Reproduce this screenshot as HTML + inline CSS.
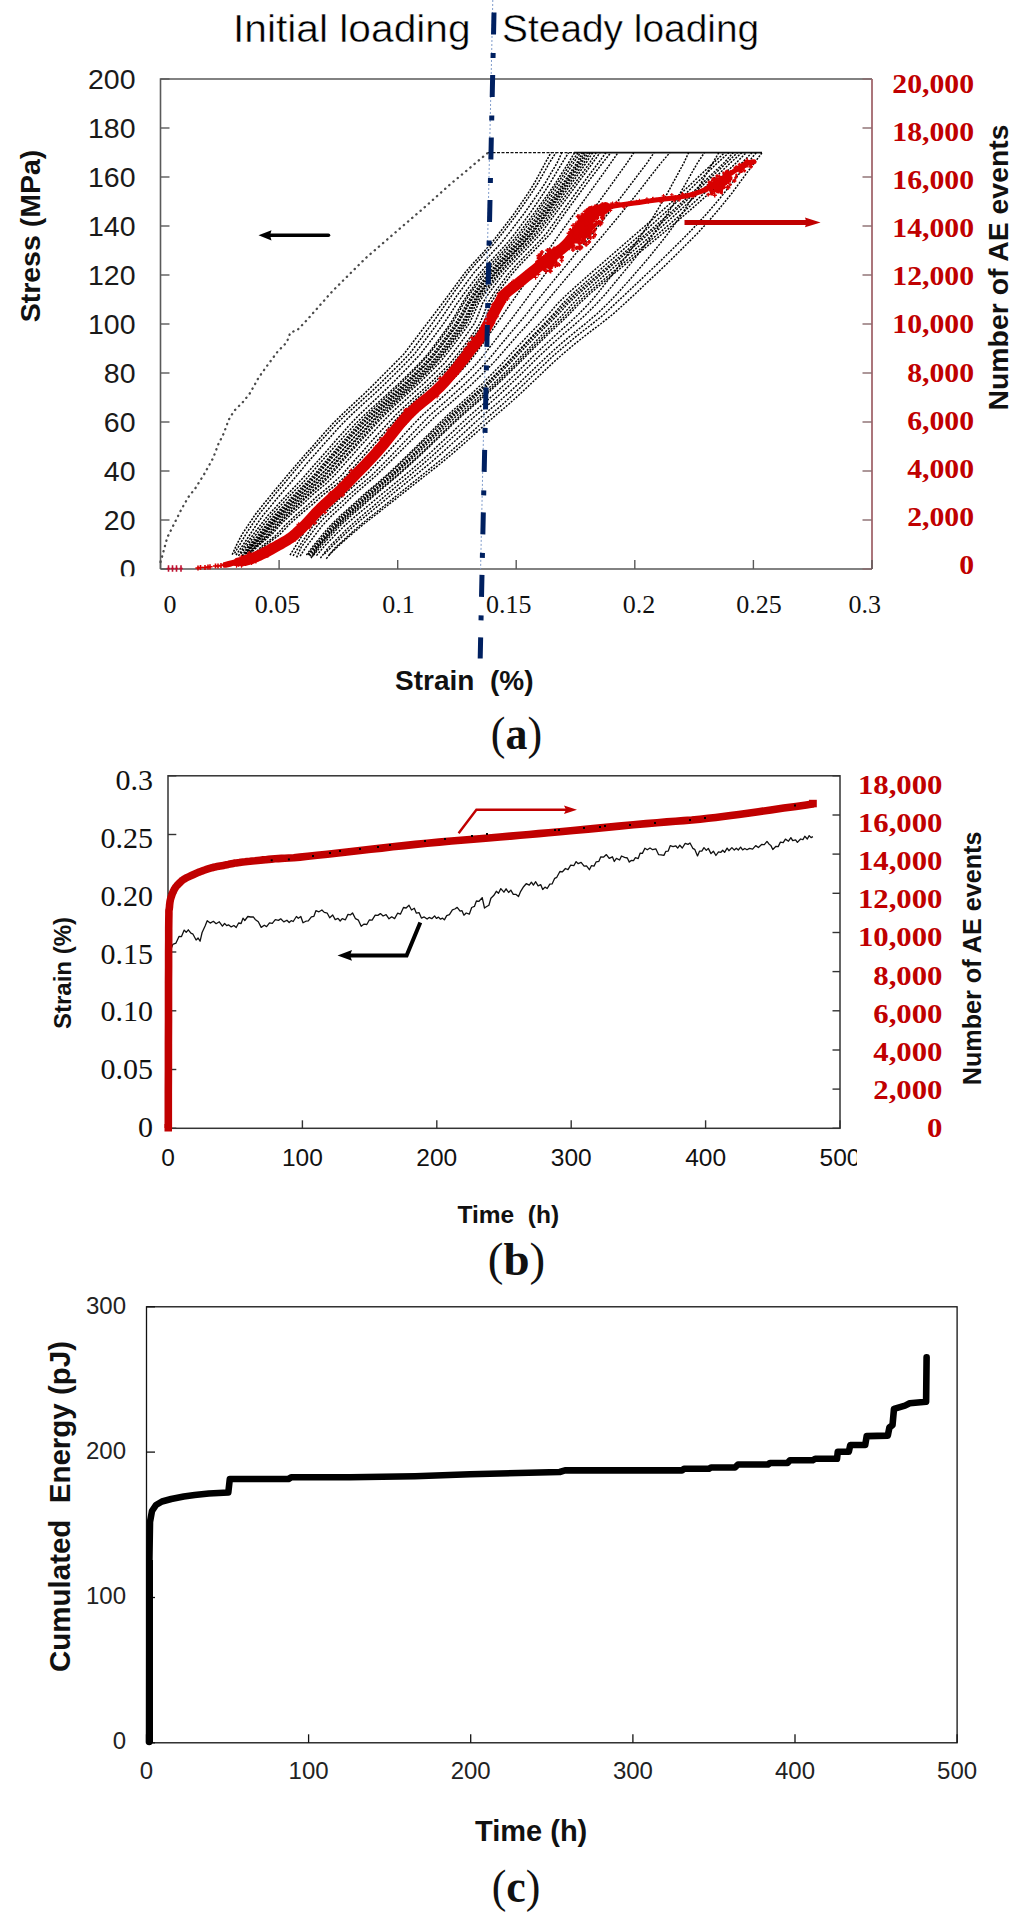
<!DOCTYPE html>
<html><head><meta charset="utf-8"><title>Figure</title>
<style>html,body{margin:0;padding:0;background:#fff;} svg{display:block;}</style></head>
<body><svg width="1024" height="1927" viewBox="0 0 1024 1927">
<rect width="1024" height="1927" fill="#fff"/>
<text x="233" y="42" font-size="38" font-family="Liberation Sans, sans-serif" font-weight="normal" fill="#000" text-anchor="start" textLength="237.6" lengthAdjust="spacingAndGlyphs" stroke="#fff" stroke-width="0.45">Initial loading</text>
<text x="502.1" y="41.5" font-size="38" font-family="Liberation Sans, sans-serif" font-weight="normal" fill="#000" text-anchor="start" textLength="257" lengthAdjust="spacingAndGlyphs" stroke="#fff" stroke-width="0.45">Steady loading</text>
<path d="M160.5 569 L160.5 79 L872 79" fill="none" stroke="#595959" stroke-width="1.6"/>
<path d="M160.5 569 L872 569" fill="none" stroke="#595959" stroke-width="1.6"/>
<path d="M872 79 L872 569" fill="none" stroke="#ab757b" stroke-width="2"/>
<line x1="160.5" y1="79" x2="169.5" y2="79" stroke="#595959" stroke-width="1.4"/>
<line x1="862.5" y1="79" x2="872" y2="79" stroke="#8a6b6e" stroke-width="1.4"/>
<text x="135.5" y="89.2" font-size="28.5" font-family="Liberation Sans, sans-serif" font-weight="normal" fill="#1a1a1a" text-anchor="end" >200</text>
<line x1="160.5" y1="128" x2="169.5" y2="128" stroke="#595959" stroke-width="1.4"/>
<line x1="862.5" y1="128" x2="872" y2="128" stroke="#8a6b6e" stroke-width="1.4"/>
<text x="135.5" y="138.2" font-size="28.5" font-family="Liberation Sans, sans-serif" font-weight="normal" fill="#1a1a1a" text-anchor="end" >180</text>
<line x1="160.5" y1="177" x2="169.5" y2="177" stroke="#595959" stroke-width="1.4"/>
<line x1="862.5" y1="177" x2="872" y2="177" stroke="#8a6b6e" stroke-width="1.4"/>
<text x="135.5" y="187.2" font-size="28.5" font-family="Liberation Sans, sans-serif" font-weight="normal" fill="#1a1a1a" text-anchor="end" >160</text>
<line x1="160.5" y1="226" x2="169.5" y2="226" stroke="#595959" stroke-width="1.4"/>
<line x1="862.5" y1="226" x2="872" y2="226" stroke="#8a6b6e" stroke-width="1.4"/>
<text x="135.5" y="236.2" font-size="28.5" font-family="Liberation Sans, sans-serif" font-weight="normal" fill="#1a1a1a" text-anchor="end" >140</text>
<line x1="160.5" y1="275" x2="169.5" y2="275" stroke="#595959" stroke-width="1.4"/>
<line x1="862.5" y1="275" x2="872" y2="275" stroke="#8a6b6e" stroke-width="1.4"/>
<text x="135.5" y="285.2" font-size="28.5" font-family="Liberation Sans, sans-serif" font-weight="normal" fill="#1a1a1a" text-anchor="end" >120</text>
<line x1="160.5" y1="324" x2="169.5" y2="324" stroke="#595959" stroke-width="1.4"/>
<line x1="862.5" y1="324" x2="872" y2="324" stroke="#8a6b6e" stroke-width="1.4"/>
<text x="135.5" y="334.2" font-size="28.5" font-family="Liberation Sans, sans-serif" font-weight="normal" fill="#1a1a1a" text-anchor="end" >100</text>
<line x1="160.5" y1="373" x2="169.5" y2="373" stroke="#595959" stroke-width="1.4"/>
<line x1="862.5" y1="373" x2="872" y2="373" stroke="#8a6b6e" stroke-width="1.4"/>
<text x="135.5" y="383.2" font-size="28.5" font-family="Liberation Sans, sans-serif" font-weight="normal" fill="#1a1a1a" text-anchor="end" >80</text>
<line x1="160.5" y1="422" x2="169.5" y2="422" stroke="#595959" stroke-width="1.4"/>
<line x1="862.5" y1="422" x2="872" y2="422" stroke="#8a6b6e" stroke-width="1.4"/>
<text x="135.5" y="432.2" font-size="28.5" font-family="Liberation Sans, sans-serif" font-weight="normal" fill="#1a1a1a" text-anchor="end" >60</text>
<line x1="160.5" y1="471" x2="169.5" y2="471" stroke="#595959" stroke-width="1.4"/>
<line x1="862.5" y1="471" x2="872" y2="471" stroke="#8a6b6e" stroke-width="1.4"/>
<text x="135.5" y="481.2" font-size="28.5" font-family="Liberation Sans, sans-serif" font-weight="normal" fill="#1a1a1a" text-anchor="end" >40</text>
<line x1="160.5" y1="520" x2="169.5" y2="520" stroke="#595959" stroke-width="1.4"/>
<line x1="862.5" y1="520" x2="872" y2="520" stroke="#8a6b6e" stroke-width="1.4"/>
<text x="135.5" y="530.2" font-size="28.5" font-family="Liberation Sans, sans-serif" font-weight="normal" fill="#1a1a1a" text-anchor="end" >20</text>
<line x1="160.5" y1="569" x2="169.5" y2="569" stroke="#595959" stroke-width="1.4"/>
<line x1="862.5" y1="569" x2="872" y2="569" stroke="#8a6b6e" stroke-width="1.4"/>
<clipPath id="c0"><rect x="100" y="540" width="50" height="36.3"/></clipPath><g clip-path="url(#c0)">
<text x="135.5" y="579.2" font-size="28.5" font-family="Liberation Sans, sans-serif" font-weight="normal" fill="#1a1a1a" text-anchor="end" >0</text>
</g>
<line x1="160.5" y1="560" x2="160.5" y2="569" stroke="#595959" stroke-width="1.4"/>
<line x1="279.1" y1="560" x2="279.1" y2="569" stroke="#595959" stroke-width="1.4"/>
<line x1="397.7" y1="560" x2="397.7" y2="569" stroke="#595959" stroke-width="1.4"/>
<line x1="516.2" y1="560" x2="516.2" y2="569" stroke="#595959" stroke-width="1.4"/>
<line x1="634.8" y1="560" x2="634.8" y2="569" stroke="#595959" stroke-width="1.4"/>
<line x1="753.4" y1="560" x2="753.4" y2="569" stroke="#595959" stroke-width="1.4"/>
<line x1="872" y1="560" x2="872" y2="569" stroke="#595959" stroke-width="1.4"/>
<text x="170" y="613" font-size="26" font-family="Liberation Serif, serif" font-weight="normal" fill="#111" text-anchor="middle" >0</text>
<text x="277.5" y="613" font-size="26" font-family="Liberation Serif, serif" font-weight="normal" fill="#111" text-anchor="middle" >0.05</text>
<text x="398.5" y="613" font-size="26" font-family="Liberation Serif, serif" font-weight="normal" fill="#111" text-anchor="middle" >0.1</text>
<text x="508.8" y="613" font-size="26" font-family="Liberation Serif, serif" font-weight="normal" fill="#111" text-anchor="middle" >0.15</text>
<text x="638.9" y="613" font-size="26" font-family="Liberation Serif, serif" font-weight="normal" fill="#111" text-anchor="middle" >0.2</text>
<text x="759" y="613" font-size="26" font-family="Liberation Serif, serif" font-weight="normal" fill="#111" text-anchor="middle" >0.25</text>
<text x="864.7" y="613" font-size="26" font-family="Liberation Serif, serif" font-weight="normal" fill="#111" text-anchor="middle" >0.3</text>
<text transform="translate(974,92.5) scale(1.1,1)" font-size="27" font-family="Liberation Serif, serif" font-weight="bold" fill="#c00000" text-anchor="end">20,000</text>
<text transform="translate(974,140.7) scale(1.1,1)" font-size="27" font-family="Liberation Serif, serif" font-weight="bold" fill="#c00000" text-anchor="end">18,000</text>
<text transform="translate(974,188.8) scale(1.1,1)" font-size="27" font-family="Liberation Serif, serif" font-weight="bold" fill="#c00000" text-anchor="end">16,000</text>
<text transform="translate(974,237) scale(1.1,1)" font-size="27" font-family="Liberation Serif, serif" font-weight="bold" fill="#c00000" text-anchor="end">14,000</text>
<text transform="translate(974,285.2) scale(1.1,1)" font-size="27" font-family="Liberation Serif, serif" font-weight="bold" fill="#c00000" text-anchor="end">12,000</text>
<text transform="translate(974,333.4) scale(1.1,1)" font-size="27" font-family="Liberation Serif, serif" font-weight="bold" fill="#c00000" text-anchor="end">10,000</text>
<text transform="translate(974,381.5) scale(1.1,1)" font-size="27" font-family="Liberation Serif, serif" font-weight="bold" fill="#c00000" text-anchor="end">8,000</text>
<text transform="translate(974,429.7) scale(1.1,1)" font-size="27" font-family="Liberation Serif, serif" font-weight="bold" fill="#c00000" text-anchor="end">6,000</text>
<text transform="translate(974,477.9) scale(1.1,1)" font-size="27" font-family="Liberation Serif, serif" font-weight="bold" fill="#c00000" text-anchor="end">4,000</text>
<text transform="translate(974,526) scale(1.1,1)" font-size="27" font-family="Liberation Serif, serif" font-weight="bold" fill="#c00000" text-anchor="end">2,000</text>
<text transform="translate(974,574.2) scale(1.1,1)" font-size="27" font-family="Liberation Serif, serif" font-weight="bold" fill="#c00000" text-anchor="end">0</text>
<text transform="translate(40,236) rotate(-90)" font-size="28.5" font-family="Liberation Sans, sans-serif" font-weight="bold" text-anchor="middle" fill="#111">Stress (MPa)</text>
<text transform="translate(1008,267.5) rotate(-90)" font-size="28.4" font-family="Liberation Sans, sans-serif" font-weight="bold" text-anchor="middle" fill="#111">Number of AE events</text>
<text x="395" y="689.5" font-size="28" font-family="Liberation Sans, sans-serif" font-weight="bold" fill="#111" text-anchor="start" >Strain&#160;&#160;(%)</text>
<text x="516.4" y="749" font-size="47" font-family="Liberation Serif, serif" font-weight="normal" fill="#111" text-anchor="middle" textLength="51.3" lengthAdjust="spacingAndGlyphs" >(<tspan font-weight="bold">a</tspan>)</text>
<path d="M160.5 562 L162 556.8 L167.3 537.4 L172.6 526.9 L181.4 509.3 L188.4 497 L195.4 488.2 L204.2 474.1 L213 458.3 L218.3 444.3 L223.6 433.7 L228.8 419.6 L234.1 410.9 L242.9 402.1 L249.9 393.3 L258.7 377.5 L267.5 365.2 L278 351.1 L286.8 342.3 L290.3 332.6 L297.4 330 L306 321 L332.6 291 L365.8 258 L399 229.3 L425.6 206.4 L450 184.5 L488 152.7" fill="none" stroke="#4a4a4a" stroke-width="2.3" stroke-dasharray="0.3 5.2" stroke-linecap="round"/>
<line x1="488" y1="152.7" x2="575" y2="152.7" stroke="#111" stroke-width="1.2" stroke-dasharray="3 1.5"/>
<line x1="574" y1="152.7" x2="762" y2="152.7" stroke="#111" stroke-width="1.7"/>
<path d="M232.2 554.6 L236.7 544.6 L242 534.5 L248.6 524.5 L255.3 514.5 L263.3 504.4 L271.5 494.4 L279.8 484.3 L288.3 474.3 L296.8 464.3 L305.6 454.2 L314.5 444.2 L323.4 434.1 L332.3 424.1 L342.5 414.1 L353.2 404 L364 394 L374.3 383.9 L384.2 373.9 L394.2 363.9 L404.1 353.8 L411.7 343.8 L419.3 333.7 L426.9 323.7 L434.6 313.6 L442.2 303.6 L449.6 293.6 L457 283.5 L464.4 273.5 L473.1 263.4 L482.4 253.4 L491.3 243.4 L499.1 233.3 L506.8 223.3 L514.5 213.2 L521.3 203.2 L528.1 193.2 L534.4 183.1 L539.8 173.1 L545.2 163 L551 152.7" fill="none" stroke="#000" stroke-width="1.5" stroke-dasharray="2 1.3" stroke-opacity="1"/>
<path d="M234.6 553.3 L240.5 543.3 L246.4 533.3 L253 523.3 L259.8 513.3 L267.9 503.3 L275.9 493.2 L284.4 483.2 L292.8 473.2 L301.1 463.2 L309.8 453.2 L318.8 443.2 L327.9 433.2 L337 423.2 L347.5 413.2 L358.6 403.2 L369.7 393.2 L380.3 383.2 L390.4 373.2 L400.5 363.2 L410.1 353.1 L417.6 343.1 L425 333.1 L432.4 323.1 L439.5 313.1 L446.4 303.1 L453.4 293.1 L460.6 283.1 L467.8 273.1 L476.4 263.1 L485.6 253.1 L494.6 243.1 L502.5 233.1 L510.2 223.1 L517.8 213 L524.7 203 L531.6 193 L538 183 L543.7 173 L549.3 163 L555.9 152.7" fill="none" stroke="#000" stroke-width="1.5" stroke-dasharray="2 1.3" stroke-opacity="1"/>
<path d="M236 555.1 L242.9 545.1 L249.6 535 L256.3 525 L263.4 514.9 L271.8 504.9 L280.1 494.8 L288.9 484.8 L297.5 474.7 L305.9 464.6 L314.6 454.6 L323.6 444.5 L332.6 434.5 L341.7 424.4 L351.9 414.4 L362.8 404.3 L373.9 394.3 L384.6 384.2 L394.7 374.2 L404.8 364.1 L414.4 354.1 L422.1 344 L429.7 334 L437.3 323.9 L444.3 313.8 L451.1 303.8 L458.3 293.7 L465.8 283.7 L473.3 273.6 L482.1 263.6 L491.4 253.5 L500.7 243.5 L508.8 233.4 L516.5 223.4 L524.3 213.3 L531.3 203.3 L538.4 193.2 L545.1 183.2 L551 173.1 L557 163.1 L561.8 152.7" fill="none" stroke="#000" stroke-width="1.5" stroke-dasharray="2 1.3" stroke-opacity="1"/>
<path d="M238.5 555.9 L244.5 545.8 L252.4 535.7 L259.9 525.7 L267.9 515.6 L277.2 505.5 L286.3 495.5 L296 485.4 L305.4 475.3 L314.1 465.2 L322.9 455.2 L331.8 445.1 L340.7 435 L349.5 424.9 L359.2 414.9 L369.7 404.8 L380.4 394.7 L390.9 384.7 L400.8 374.6 L410.7 364.5 L420.1 354.4 L427.9 344.4 L435.6 334.3 L443.2 324.2 L450.1 314.2 L456.6 304.1 L463.8 294 L471.5 283.9 L479.2 273.9 L488 263.8 L497.5 253.7 L506.8 243.6 L515 233.6 L522.5 223.5 L529.9 213.4 L536.7 203.4 L543.5 193.3 L550 183.2 L556 173.1 L562 163.1 L568.6 152.7" fill="none" stroke="#000" stroke-width="1.5" stroke-dasharray="2 1.3" stroke-opacity="1"/>
<path d="M241 553.7 L248.3 543.7 L256.7 533.7 L264.3 523.7 L272.9 513.6 L282.5 503.6 L291.7 493.6 L302 483.6 L311.1 473.6 L319.7 463.6 L328.5 453.5 L337.5 443.5 L346.6 433.5 L355.8 423.5 L366 413.5 L377 403.5 L388.1 393.4 L399 383.4 L409.3 373.4 L419.4 363.4 L428.4 353.4 L436 343.3 L443.3 333.3 L450.5 323.3 L456.4 313.3 L462 303.3 L468.6 293.3 L475.9 283.2 L483.2 273.2 L491.9 263.2 L501.3 253.2 L510.7 243.2 L519.1 233.1 L526.7 223.1 L534.3 213.1 L541.5 203.1 L548.7 193.1 L555.6 183.1 L562 173 L568.4 163 L574.5 152.7" fill="none" stroke="#000" stroke-width="1.5" stroke-dasharray="2 1.3" stroke-opacity="1"/>
<path d="M241.9 556.2 L248.3 546.1 L257.5 536 L265.4 526 L273.9 515.9 L283.8 505.8 L293.3 495.7 L303.5 485.6 L313.4 475.6 L322 465.5 L330.8 455.4 L339.7 445.3 L348.8 435.2 L357.7 425.2 L367.3 415.1 L378 405 L388.8 394.9 L399.6 384.8 L409.7 374.8 L419.7 364.7 L428.8 354.6 L436.6 344.5 L444.1 334.4 L451.5 324.4 L457.6 314.3 L463.2 304.2 L469.9 294.1 L477.4 284 L485 274 L493.7 263.9 L503.3 253.8 L512.8 243.7 L521.4 233.6 L528.9 223.6 L536.5 213.5 L543.6 203.4 L550.8 193.3 L557.7 183.2 L564.3 173.2 L570.8 163.1 L578 152.7" fill="none" stroke="#000" stroke-width="1.5" stroke-dasharray="2 1.3" stroke-opacity="1"/>
<path d="M242.8 556.4 L249.3 546.3 L258.8 536.2 L266.8 526.1 L275.4 516.1 L285.3 506 L294.9 495.9 L305.2 485.8 L315.1 475.7 L323.7 465.6 L332.5 455.6 L341.5 445.5 L350.7 435.4 L359.8 425.3 L369.7 415.2 L380.6 405.1 L391.6 395 L402.7 385 L413.1 374.9 L423.2 364.8 L432.3 354.7 L440.1 344.6 L447.6 334.5 L454.9 324.4 L460.9 314.4 L466.3 304.3 L472.9 294.2 L480.4 284.1 L487.9 274 L496.7 263.9 L506.2 253.9 L515.7 243.8 L524.4 233.7 L531.8 223.6 L539.2 213.5 L546.3 203.4 L553.4 193.3 L560.3 183.3 L566.8 173.2 L573.4 163.1 L580.4 152.7" fill="none" stroke="#000" stroke-width="1.5" stroke-dasharray="2 1.3" stroke-opacity="1"/>
<path d="M243.5 557 L250.3 546.9 L260 536.8 L268.1 526.7 L276.6 516.6 L286.7 506.5 L296.2 496.4 L306.4 486.3 L316.5 476.2 L325.1 466.1 L333.9 456 L342.9 445.9 L352.1 435.8 L361.3 425.7 L371 415.6 L382 405.5 L393.1 395.4 L404.2 385.3 L414.6 375.2 L424.8 365.1 L433.9 355 L441.7 344.9 L449.2 334.8 L456.6 324.7 L462.5 314.6 L467.8 304.5 L474.4 294.4 L481.9 284.3 L489.5 274.2 L498.3 264.1 L507.9 254 L517.5 243.9 L526.3 233.8 L533.9 223.7 L541.5 213.6 L548.7 203.5 L556 193.4 L563.1 183.3 L569.9 173.2 L576.6 163.1 L582.4 152.7" fill="none" stroke="#000" stroke-width="1.5" stroke-dasharray="2 1.3" stroke-opacity="1"/>
<path d="M244.2 556.6 L250.5 546.6 L260.8 536.5 L269.2 526.4 L278.3 516.3 L288.9 506.2 L298.9 496.1 L309.7 486 L320.2 475.9 L329 465.8 L337.8 455.7 L346.7 445.6 L355.7 435.6 L364.6 425.5 L373.9 415.4 L384.4 405.3 L395.1 395.2 L405.8 385.1 L415.9 375 L425.9 364.9 L434.8 354.8 L442.6 344.7 L450.2 334.6 L457.7 324.6 L463.5 314.5 L468.8 304.4 L475.5 294.3 L483.2 284.2 L490.8 274.1 L499.7 264 L509.4 253.9 L519 243.8 L527.8 233.7 L535.3 223.6 L542.9 213.5 L550.2 203.5 L557.5 193.4 L564.6 183.3 L571.4 173.2 L578.2 163.1 L584.3 152.7" fill="none" stroke="#000" stroke-width="1.5" stroke-dasharray="2 1.3" stroke-opacity="1"/>
<path d="M245.1 553.8 L254.7 543.7 L264.6 533.7 L272.5 523.7 L281.9 513.7 L292 503.7 L301.7 493.6 L312.7 483.6 L322.1 473.6 L330.7 463.6 L339.4 453.6 L348.4 443.6 L357.6 433.5 L366.8 423.5 L376.8 413.5 L387.8 403.5 L398.9 393.5 L410.1 383.4 L420.4 373.4 L430.5 363.4 L439.1 353.4 L446.8 343.4 L454.3 333.3 L461.6 323.3 L467 313.3 L472 303.3 L478.8 293.3 L486.4 283.2 L494 273.2 L502.9 263.2 L512.5 253.2 L522 243.2 L530.6 233.2 L538 223.1 L545.3 213.1 L552.3 203.1 L559.4 193.1 L566.3 183.1 L573 173 L579.7 163 L586.3 152.7" fill="none" stroke="#000" stroke-width="1.5" stroke-dasharray="2 1.3" stroke-opacity="1"/>
<path d="M245.7 557.4 L251.6 547.3 L262.3 537.2 L271.1 527 L280.2 516.9 L291 506.8 L301.2 496.7 L312.1 486.6 L322.9 476.5 L331.7 466.4 L340.5 456.3 L349.5 446.2 L358.6 436.1 L367.7 426 L377.2 415.8 L387.9 405.7 L398.9 395.6 L409.9 385.5 L420.3 375.4 L430.4 365.3 L439.3 355.2 L447.2 345.1 L454.7 335 L462.1 324.9 L467.7 314.8 L472.7 304.6 L479 294.5 L486.7 284.4 L494.3 274.3 L503.1 264.2 L512.8 254.1 L522.5 244 L531.4 233.9 L538.8 223.8 L546.2 213.7 L553.3 203.5 L560.5 193.4 L567.6 183.3 L574.4 173.2 L581.3 163.1 L588.2 152.7" fill="none" stroke="#000" stroke-width="1.5" stroke-dasharray="2 1.3" stroke-opacity="1"/>
<path d="M246.4 557.2 L254 547.1 L264.9 537 L273.6 526.9 L282.6 516.8 L293.2 506.7 L303.2 496.6 L313.9 486.5 L324.6 476.4 L333.2 466.3 L342 456.1 L351 446 L360.2 435.9 L369.4 425.8 L378.9 415.7 L389.8 405.6 L400.8 395.5 L412 385.4 L422.4 375.3 L432.6 365.2 L441.4 355.1 L449.2 345 L456.7 334.9 L463.9 324.8 L469.2 314.7 L473.8 304.6 L479.9 294.5 L487.4 284.4 L494.9 274.3 L503.6 264.2 L513.3 254 L523 243.9 L532.1 233.8 L539.7 223.7 L547.3 213.6 L554.7 203.5 L562.2 193.4 L569.5 183.3 L576.6 173.2 L583.7 163.1 L590.2 152.7" fill="none" stroke="#000" stroke-width="1.5" stroke-dasharray="2 1.3" stroke-opacity="1"/>
<path d="M247.3 556.2 L256.3 546.2 L267.5 536.1 L276.2 526 L285.6 515.9 L296.5 505.8 L306.6 495.8 L317.9 485.7 L328.4 475.6 L337.1 465.5 L345.9 455.4 L354.8 445.3 L363.8 435.3 L372.8 425.2 L382.2 415.1 L392.7 405 L403.5 394.9 L414.4 384.9 L424.6 374.8 L434.6 364.7 L443.2 354.6 L451 344.5 L458.6 334.5 L465.9 324.4 L471.2 314.3 L475.9 304.2 L482.3 294.1 L490 284.1 L497.7 274 L506.6 263.9 L516.3 253.8 L526 243.7 L535.1 233.6 L542.5 223.6 L549.9 213.5 L557.3 203.4 L564.6 193.3 L571.8 183.2 L578.9 173.2 L586 163.1 L592.6 152.7" fill="none" stroke="#000" stroke-width="1.5" stroke-dasharray="2 1.3" stroke-opacity="1"/>
<path d="M248.6 553.1 L260.1 543.1 L271.1 533.1 L279.5 523.1 L289.9 513.1 L300.6 503.1 L310.8 493.1 L322.8 483.1 L332.4 473.1 L341 463.1 L349.8 453.1 L358.7 443.1 L367.8 433.1 L376.8 423.1 L386.5 413.1 L397.1 403.1 L408.1 393.1 L419.1 383.1 L429.2 373.1 L439.2 363.1 L447.3 353.1 L455 343.1 L462.4 333.1 L469.6 323 L474.3 313 L478.6 303 L485.2 293 L492.8 283 L500.4 273 L509.5 263 L519.1 253 L528.8 243 L537.8 233 L545.3 223 L552.8 213 L560.2 203 L567.7 193 L575.1 183 L582.4 173 L589.6 163 L596.1 152.7" fill="none" stroke="#000" stroke-width="1.5" stroke-dasharray="2 1.3" stroke-opacity="1"/>
<path d="M250 553.6 L260.9 543.6 L272.6 533.6 L281.4 523.6 L292.1 513.6 L303.3 503.6 L313.9 493.5 L326.3 483.5 L336.2 473.5 L345 463.5 L353.8 453.5 L362.8 443.5 L371.9 433.5 L381.2 423.4 L390.9 413.4 L401.7 403.4 L412.8 393.4 L424.1 383.4 L434.4 373.4 L444.5 363.3 L452.6 353.3 L460.3 343.3 L467.5 333.3 L474.6 323.3 L478.8 313.3 L482.6 303.2 L488.9 293.2 L496.3 283.2 L503.7 273.2 L512.7 263.2 L522.3 253.2 L532.1 243.1 L541.2 233.1 L548.5 223.1 L555.8 213.1 L563.2 203.1 L570.6 193.1 L577.9 183 L585.3 173 L592.6 163 L600 152.7" fill="none" stroke="#000" stroke-width="1.5" stroke-dasharray="2 1.3" stroke-opacity="1"/>
<path d="M252.2 555.7 L262.5 545.7 L275.7 535.6 L284.9 525.5 L295.5 515.5 L307.3 505.4 L318.2 495.3 L330.6 485.3 L341.6 475.2 L350.4 465.1 L359.3 455.1 L368.2 445 L377.3 434.9 L386.5 424.9 L395.9 414.8 L406.5 404.7 L417.4 394.6 L428.7 384.6 L439.1 374.5 L449.2 364.4 L457.3 354.4 L465.1 344.3 L472.5 334.2 L479.5 324.2 L483.8 314.1 L487.3 304 L493.3 294 L500.9 283.9 L508.5 273.8 L517.4 263.8 L527.2 253.7 L537.1 243.6 L546.4 233.5 L553.7 223.5 L560.9 213.4 L568.3 203.3 L575.7 193.3 L583.1 183.2 L590.6 173.1 L598.2 163.1 L605.9 152.7" fill="none" stroke="#000" stroke-width="1.5" stroke-dasharray="2 1.3" stroke-opacity="1"/>
<path d="M253.9 554.8 L266 544.7 L279.7 534.7 L288.9 524.7 L300.2 514.6 L312.3 504.6 L323.5 494.5 L336.5 484.5 L347.3 474.4 L356.2 464.4 L365 454.3 L373.9 444.3 L382.9 434.3 L391.8 424.2 L400.9 414.2 L411.1 404.1 L421.8 394.1 L432.8 384 L442.9 374 L452.8 363.9 L460.6 353.9 L468.4 343.9 L475.8 333.8 L483 323.8 L487.1 313.7 L490.5 303.7 L496.7 293.6 L504.5 283.6 L512.3 273.5 L521.4 263.5 L531.3 253.4 L541.2 243.4 L550.6 233.4 L557.7 223.3 L564.9 213.3 L572.3 203.2 L579.6 193.2 L587.1 183.1 L594.8 173.1 L602.5 163 L610.8 152.7" fill="none" stroke="#000" stroke-width="1.5" stroke-dasharray="2 1.3" stroke-opacity="1"/>
<path d="M290 555.2 L296.2 545.1 L302.5 535.1 L308.9 525 L317.6 515 L328 504.9 L337.5 494.8 L349.1 484.8 L359.9 474.7 L369 464.7 L378.1 454.6 L387.2 444.6 L396.3 434.5 L405.3 424.5 L414.8 414.4 L426 404.4 L437 394.3 L448.1 384.2 L457.9 374.2 L467.4 364.1 L475.2 354.1 L482.5 344 L489.6 334 L496.6 323.9 L503.6 313.9 L510.5 303.8 L517.6 293.8 L524.7 283.7 L531.7 273.7 L538.8 263.6 L545.9 253.5 L553 243.5 L560.1 233.4 L567.3 223.4 L574.6 213.3 L581.9 203.3 L589.2 193.2 L596.4 183.2 L603.6 173.1 L610.7 163.1 L618 152.7" fill="none" stroke="#000" stroke-width="1.45" stroke-dasharray="2 1.3" stroke-opacity="1"/>
<path d="M293.1 555.8 L299.5 545.8 L306.3 535.7 L313.2 525.6 L322.2 515.6 L333 505.5 L343 495.4 L354.6 485.3 L365.9 475.3 L375.5 465.2 L384.9 455.1 L394.3 445.1 L403.7 435 L412.9 424.9 L422.7 414.9 L433.9 404.8 L445.1 394.7 L456.2 384.6 L466.3 374.6 L475.9 364.5 L484.2 354.4 L492 344.4 L499.8 334.3 L507.5 324.2 L515.2 314.1 L522.7 304.1 L530.2 294 L537.7 283.9 L545.3 273.9 L552.8 263.8 L560.3 253.7 L567.8 243.6 L575.3 233.6 L582.8 223.5 L590.2 213.4 L597.7 203.4 L605.1 193.3 L612.4 183.2 L619.6 173.1 L626.9 163.1 L633.8 152.7" fill="none" stroke="#000" stroke-width="1.45" stroke-dasharray="2 1.3" stroke-opacity="1"/>
<path d="M296.6 557.4 L301.2 547.3 L308.6 537.2 L316.1 527.1 L325.1 516.9 L336.5 506.8 L347 496.7 L358.6 486.6 L370.6 476.5 L380.7 466.4 L390.6 456.3 L400.2 446.2 L409.9 436.1 L419.5 426 L429.3 415.8 L440.7 405.7 L452.1 395.6 L463.2 385.5 L473.5 375.4 L483.4 365.3 L492.2 355.2 L500.5 345.1 L508.9 335 L517.4 324.9 L525.9 314.8 L533.9 304.6 L542.2 294.5 L550.5 284.4 L558.8 274.3 L567.2 264.2 L575.4 254.1 L583.7 244 L591.9 233.9 L600 223.8 L608 213.7 L616 203.5 L623.9 193.4 L631.6 183.3 L639.2 173.2 L647 163.1 L654 152.7" fill="none" stroke="#000" stroke-width="1.45" stroke-dasharray="2 1.3" stroke-opacity="1"/>
<path d="M300.1 556 L306.8 545.9 L314.5 535.8 L322.2 525.7 L331.7 515.7 L342.8 505.6 L353.1 495.5 L364.8 485.4 L376.3 475.4 L386.4 465.3 L396.5 455.2 L406.5 445.1 L416.4 435.1 L426.4 425 L436.7 414.9 L448.4 404.9 L460 394.8 L471.3 384.7 L481.7 374.6 L491.8 364.6 L500.8 354.5 L509.6 344.4 L518.4 334.3 L527.4 324.3 L536.1 314.2 L544.4 304.1 L552.8 294 L561.3 284 L569.9 273.9 L578.6 263.8 L587.1 253.7 L595.7 243.7 L604.3 233.6 L612.7 223.5 L621.1 213.4 L629.2 203.4 L637.4 193.3 L645.2 183.2 L653 173.1 L660.9 163.1 L669.8 152.7" fill="none" stroke="#000" stroke-width="1.45" stroke-dasharray="2 1.3" stroke-opacity="1"/>
<path d="M306.4 555 L313.9 545 L322.3 534.9 L331 524.9 L341.4 514.8 L352.8 504.8 L363.7 494.7 L375.7 484.7 L387.3 474.6 L397.9 464.6 L408.3 454.5 L418.4 444.5 L428.4 434.4 L438.2 424.4 L448.5 414.3 L459.8 404.3 L470.9 394.2 L481.7 384.2 L491.8 374.1 L501.7 364.1 L510.8 354 L520.1 344 L529.6 333.9 L539.3 323.9 L548.7 313.8 L557.4 303.8 L567.7 293.7 L578.9 283.7 L590.3 273.6 L601.9 263.6 L613.4 253.5 L624.9 243.5 L636.5 233.4 L648 223.4 L659.3 213.3 L670.3 203.3 L681.3 193.2 L691.9 183.2 L702.4 173.1 L713.1 163.1 L724.6 152.7" fill="none" stroke="#000" stroke-width="1.45" stroke-dasharray="2 1.3" stroke-opacity="1"/>
<path d="M308 554.5 L316.1 544.5 L324.6 534.4 L333.3 524.4 L343.8 514.4 L355 504.3 L365.8 494.3 L377.7 484.2 L389.1 474.2 L399.7 464.2 L410.2 454.1 L420.4 444.1 L430.6 434.1 L440.8 424 L451.5 414 L463.3 403.9 L474.7 393.9 L485.8 383.9 L496.2 373.8 L506.3 363.8 L515.6 353.8 L525.1 343.7 L534.6 333.7 L544.5 323.6 L553.9 313.6 L562.7 303.6 L573 293.5 L584.3 283.5 L595.7 273.5 L607.3 263.4 L618.9 253.4 L630.4 243.3 L642.1 233.3 L653.4 223.3 L664.5 213.2 L675.4 203.2 L686.2 193.2 L696.5 183.1 L706.9 173.1 L717.4 163 L728.9 152.7" fill="none" stroke="#000" stroke-width="1.45" stroke-dasharray="2 1.3" stroke-opacity="1"/>
<path d="M308.7 555.3 L316.8 545.2 L325.5 535.1 L334.4 525.1 L345 515 L356.5 505 L367.5 494.9 L379.5 484.9 L391.2 474.8 L402 464.8 L412.6 454.7 L422.8 444.6 L433 434.6 L443 424.5 L453.3 414.5 L464.7 404.4 L475.8 394.4 L486.6 384.3 L496.7 374.2 L506.7 364.2 L516.1 354.1 L525.7 344.1 L535.6 334 L545.9 324 L555.9 313.9 L565.2 303.8 L575.9 293.8 L587.6 283.7 L599.5 273.7 L611.4 263.6 L623.1 253.6 L634.8 243.5 L646.7 233.5 L658.2 223.4 L669.7 213.3 L680.8 203.3 L691.8 193.2 L702.4 183.2 L713 173.1 L723.7 163.1 L733.2 152.7" fill="none" stroke="#000" stroke-width="1.45" stroke-dasharray="2 1.3" stroke-opacity="1"/>
<path d="M309.9 556.3 L317.5 546.2 L326.3 536.2 L335.2 526.1 L345.6 516 L357.1 505.9 L368.1 495.8 L379.9 485.7 L391.7 475.7 L402.6 465.6 L413.3 455.5 L423.6 445.4 L433.9 435.3 L444.1 425.2 L454.5 415.2 L466 405.1 L477.3 395 L488.1 384.9 L498.5 374.8 L508.5 364.7 L518.1 354.7 L527.9 344.6 L537.8 334.5 L548.2 324.4 L558.3 314.3 L567.5 304.2 L578.2 294.2 L589.9 284.1 L601.7 274 L613.6 263.9 L625.4 253.8 L637.3 243.7 L649.2 233.7 L660.8 223.6 L672.3 213.5 L683.4 203.4 L694.4 193.3 L705 183.2 L715.5 173.2 L726.2 163.1 L737.5 152.7" fill="none" stroke="#000" stroke-width="1.45" stroke-dasharray="2 1.3" stroke-opacity="1"/>
<path d="M311.1 558.1 L316.5 548 L325.5 537.9 L334.6 527.8 L344.8 517.6 L356.7 507.5 L367.9 497.4 L379.6 487.2 L391.9 477.1 L402.9 467 L413.9 456.9 L424.5 446.7 L435.1 436.6 L445.6 426.5 L456.2 416.3 L468.1 406.2 L479.8 396.1 L491 386 L501.7 375.8 L512 365.7 L521.8 355.6 L531.7 345.4 L541.7 335.3 L552.2 325.2 L562.4 315.1 L571.5 304.9 L581.9 294.8 L593.5 284.7 L605.3 274.5 L617.3 264.4 L629.2 254.3 L641.2 244.2 L653.2 234 L664.9 223.9 L676.3 213.8 L687.4 203.6 L698.5 193.5 L709 183.4 L719.5 173.3 L730.2 163.1 L741.8 152.7" fill="none" stroke="#000" stroke-width="1.45" stroke-dasharray="2 1.3" stroke-opacity="1"/>
<path d="M312.2 556.7 L318.7 546.6 L328 536.5 L337.4 526.4 L348.3 516.3 L360.3 506.3 L371.8 496.2 L383.9 486.1 L396.1 476 L407.4 465.9 L418.4 455.8 L429 445.7 L439.5 435.6 L449.9 425.5 L460.5 415.4 L472.3 405.3 L483.6 395.2 L494.7 385.1 L505.1 375 L515.4 365 L525.1 354.9 L535.2 344.8 L545.4 334.7 L556.1 324.6 L566.4 314.5 L575.8 304.4 L586.5 294.3 L598.3 284.2 L610.2 274.1 L622.4 264 L634.3 253.9 L646.4 243.8 L658.4 233.7 L670.2 223.7 L681.7 213.6 L692.9 203.5 L704 193.4 L714.6 183.3 L725.1 173.2 L735.9 163.1 L746.2 152.7" fill="none" stroke="#000" stroke-width="1.45" stroke-dasharray="2 1.3" stroke-opacity="1"/>
<path d="M313.4 555.3 L322 545.2 L331.3 535.2 L340.8 525.1 L351.8 515.1 L363.5 505 L374.8 495 L386.8 484.9 L398.7 474.8 L409.9 464.8 L420.9 454.7 L431.4 444.7 L442 434.6 L452.4 424.6 L463.3 414.5 L475 404.4 L486.4 394.4 L497.4 384.3 L507.8 374.3 L518.1 364.2 L527.9 354.2 L538.1 344.1 L548.4 334 L559.2 324 L569.6 313.9 L579 303.9 L589.9 293.8 L601.8 283.7 L613.9 273.7 L626.2 263.6 L638.3 253.6 L650.5 243.5 L662.8 233.5 L674.8 223.4 L686.5 213.3 L698 203.3 L709.3 193.2 L720.1 183.2 L730.8 173.1 L741.7 163.1 L751.9 152.7" fill="none" stroke="#000" stroke-width="1.45" stroke-dasharray="2 1.3" stroke-opacity="1"/>
<path d="M316.5 555.6 L324.9 545.6 L334.7 535.5 L344.9 525.4 L356.4 515.4 L368.6 505.3 L380.4 495.3 L392.8 485.2 L405 475.1 L416.7 465.1 L428 455 L438.7 444.9 L449.4 434.9 L459.9 424.8 L470.7 414.7 L482.4 404.7 L493.6 394.6 L504.4 384.5 L514.8 374.5 L525 364.4 L535.1 354.3 L545.7 344.3 L556.5 334.2 L567.8 324.1 L578.7 314.1 L588.5 304 L597.2 293.9 L605.1 283.9 L612.9 273.8 L620.7 263.7 L628.1 253.7 L635.3 243.6 L642.4 233.5 L649.1 223.5 L655.4 213.4 L661.5 203.3 L667.4 193.3 L672.8 183.2 L678.3 173.1 L683.8 163.1 L688.6 152.7" fill="none" stroke="#000" stroke-width="1.45" stroke-dasharray="2 1.3" stroke-opacity="1"/>
<path d="M320.4 558.1 L328 548 L338.1 537.8 L348.3 527.7 L359.7 517.6 L371.8 507.5 L383.5 497.3 L395.5 487.2 L407.8 477.1 L419.6 466.9 L431.3 456.8 L442.3 446.7 L453.3 436.6 L464 426.4 L474.8 416.3 L486.6 406.2 L497.9 396.1 L508.7 385.9 L519.3 375.8 L529.6 365.7 L539.9 355.5 L550.8 345.4 L562 335.3 L573.9 325.2 L585.4 315 L595.4 304.9 L604.8 294.8 L613.2 284.7 L621.6 274.5 L630 264.4 L638 254.3 L645.8 244.1 L653.4 234 L660.6 223.9 L667.4 213.8 L673.8 203.6 L680 193.5 L685.8 183.4 L691.5 173.3 L697.4 163.1 L704.4 152.7" fill="none" stroke="#000" stroke-width="1.45" stroke-dasharray="2 1.3" stroke-opacity="1"/>
<path d="M324.4 554.1 L334.4 544.1 L344.9 534.1 L356 524.1 L368.1 514 L380.3 504 L392.4 494 L404.8 483.9 L417.1 473.9 L429.2 463.9 L440.8 453.9 L451.9 443.8 L462.9 433.8 L473.7 423.8 L484.9 413.7 L496.7 403.7 L507.8 393.7 L518.5 383.7 L529 373.6 L539.4 363.6 L550 353.6 L561.3 343.5 L573.2 333.5 L585.6 323.5 L597.4 313.5 L607.9 303.4 L617.5 293.4 L626.4 283.4 L635.2 273.3 L644 263.3 L652.3 253.3 L660.3 243.3 L668.2 233.2 L675.5 223.2 L682.4 213.2 L688.9 203.1 L695.2 193.1 L701 183.1 L706.8 173.1 L712.7 163 L718.8 152.7" fill="none" stroke="#000" stroke-width="1.45" stroke-dasharray="2 1.3" stroke-opacity="1"/>
<path d="M326.3 558.7 L334.4 548.5 L345.4 538.4 L356.4 528.3 L368.8 518.1 L381.5 508 L393.9 497.8 L406.5 487.7 L419.1 477.5 L431.7 467.4 L444 457.3 L455.4 447.1 L466.7 437 L477.5 426.8 L488.4 416.7 L500 406.6 L511.2 396.4 L521.7 386.3 L532.2 376.1 L542.6 366 L553.3 355.8 L565.1 345.7 L577.2 335.6 L590.3 325.4 L602.9 315.3 L613.7 305.1 L624.6 295 L635.3 284.8 L646 274.7 L656.7 264.6 L667.1 254.4 L677.4 244.3 L687.6 234.1 L697.3 224 L706.5 213.9 L715.3 203.7 L723.8 193.6 L731.7 183.4 L739.6 173.3 L747.6 163.1 L756.2 152.7" fill="none" stroke="#000" stroke-width="1.45" stroke-dasharray="2 1.3" stroke-opacity="1"/>
<path d="M329 555 L339.5 544.9 L350.8 534.9 L362.8 524.8 L375.6 514.8 L388.4 504.7 L401.1 494.7 L413.8 484.6 L426.5 474.6 L439.3 464.5 L451.5 454.5 L463 444.4 L474.3 434.4 L485.5 424.3 L496.9 414.3 L508.7 404.2 L519.8 394.2 L530.5 384.1 L541.1 374.1 L551.6 364 L562.8 354 L574.8 343.9 L587.4 333.9 L600.8 323.8 L613.4 313.8 L624.5 303.7 L635.4 293.7 L645.9 283.6 L656.6 273.6 L667.2 263.5 L677.4 253.5 L687.4 243.4 L697.4 233.4 L706.7 223.3 L715.5 213.3 L723.8 203.2 L731.9 193.2 L739.3 183.1 L746.7 173.1 L754.3 163 L762 152.7" fill="none" stroke="#000" stroke-width="1.45" stroke-dasharray="2 1.3" stroke-opacity="1"/>
<path d="M225.4 564.8 L228.8 564 L232 563.2 L235 562.5 L237.7 562" fill="none" stroke="#d80000" stroke-width="6" stroke-linejoin="round" stroke-linecap="round"/>
<path d="M237.7 562 L240.2 561.5 L242.5 561.1 L245 560.5" fill="none" stroke="#d80000" stroke-width="8.5" stroke-linejoin="round" stroke-linecap="round"/>
<path d="M245 560.5 L247.6 559.8 L250.2 559 L252.9 558.1 L255.6 557 L258.4 555.8 L261.2 554.4 L264.1 553 L267 551.5 L270 549.9 L273 548.2 L276.1 546.5 L279 544.8 L281.8 543.3 L284.4 541.8 L287.1 540.3 L290 538.3 L293 536 L296.1 533.4 L299.4 530.4 L303 527 L306.9 523 L311.1 518.5 L315.4 513.7 L320 509 L324.9 504.3 L330.1 499.6 L335.3 494.9 L340 490.5 L344 486.6 L347.4 483.1 L351 479.4 L355.2 475 L360.2 469.9 L365.7 464.3 L371.6 458 L378 451 L385.1 442.6 L392.7 433 L400.5 423.4 L408 415 L415.2 408.1 L422.4 402.1 L429.1 396.7 L435.2 391.4 L440.3 386.5 L444.6 382 L448.5 377.5 L452.7 372.7 L457.2 367.2 L461.9 361.3 L466.3 355.6 L470.3 350.4 L473.7 346.2 L476.7 342.5 L479.4 339 L482 335.2 L484.5 330.9 L486.9 326.4 L489.2 321.9 L491.4 317.6 L493.6 313.4 L495.7 309.4 L497.8 305.6 L499.6 302.3 L501 299.8 L502 297.8 L503.2 296 L505 294 L507.5 291.7 L510.6 289.2 L513.9 286.6 L517.6 283.8 L521.7 280.4 L526.2 276.8 L530.8 273.1 L535 269.7 L538.7 266.6 L542.1 263.7 L545.4 260.9 L549 258 L552.9 255.1 L557.1 252.3 L561.2 249.3 L565 246 L568.5 242.3 L571.8 238.2 L574.9 234 L578 230 L581 226 L583.8 222 L586.8 218.2 L590 215 L594 212.4 L598.5 210.4 L602.6 208.8 L605.5 207.6" fill="none" stroke="#d80000" stroke-width="11" stroke-linejoin="round" stroke-linecap="round"/>
<path d="M605.5 207.6 L607.9 207.2 L611.2 206.5 L615.3 205.8 L620 205 L625.7 204.2 L632.3 203.3 L639.1 202.4 L645 201.6 L649.8 200.9 L653.9 200.3 L657.8 199.8 L662 199.2 L666.6 198.7 L671.4 198.2 L676.3 197.6 L681 196.9 L685.7 196 L690.3 194.9 L694.8 193.6 L699 192.2 L702.9 190.6 L706.5 188.7 L709.9 186.8 L713 185 L715.7 183.2 L718.2 181.5 L720.5 179.7 L723 178 L725.8 176.2 L728.7 174.5 L731.6 172.8 L734.5 171 L737.5 169.1 L740.5 167.2 L743.4 165.4 L746 164 L748.4 163 L750.7 162.4 L752.6 162 L754 161.7" fill="none" stroke="#d80000" stroke-width="5" stroke-linejoin="round" stroke-linecap="round"/>
<path d="M234.3 565.5 h4.4 M236.5 563.3 v4.4" stroke="#d80000" stroke-width="1.2"/>
<path d="M228.6 564.1 h4.4 M230.8 561.9 v4.4" stroke="#d80000" stroke-width="1.2"/>
<path d="M239.6 564.8 h4.4 M241.8 562.6 v4.4" stroke="#d80000" stroke-width="1.2"/>
<path d="M238 561.7 h4.4 M240.2 559.5 v4.4" stroke="#d80000" stroke-width="1.2"/>
<path d="M234.7 564.4 h4.4 M236.9 562.2 v4.4" stroke="#d80000" stroke-width="1.2"/>
<path d="M236.3 564.5 h4.4 M238.5 562.3 v4.4" stroke="#d80000" stroke-width="1.2"/>
<path d="M245 560 h4.4 M247.2 557.8 v4.4" stroke="#d80000" stroke-width="1.2"/>
<path d="M239.3 565.6 h4.4 M241.5 563.4 v4.4" stroke="#d80000" stroke-width="1.2"/>
<path d="M245 557.2 h4.4 M247.2 555 v4.4" stroke="#d80000" stroke-width="1.2"/>
<path d="M239.1 557 h4.4 M241.3 554.8 v4.4" stroke="#d80000" stroke-width="1.2"/>
<path d="M249.4 562.8 h4.4 M251.6 560.6 v4.4" stroke="#d80000" stroke-width="1.2"/>
<path d="M241.9 563 h4.4 M244.1 560.8 v4.4" stroke="#d80000" stroke-width="1.2"/>
<path d="M252.8 560.5 h4.4 M255 558.3 v4.4" stroke="#d80000" stroke-width="1.2"/>
<path d="M246.5 559.5 h4.4 M248.7 557.3 v4.4" stroke="#d80000" stroke-width="1.2"/>
<path d="M247 553.2 h4.4 M249.2 551 v4.4" stroke="#d80000" stroke-width="1.2"/>
<path d="M255.4 559.5 h4.4 M257.6 557.3 v4.4" stroke="#d80000" stroke-width="1.2"/>
<path d="M253.7 561.3 h4.4 M255.9 559.1 v4.4" stroke="#d80000" stroke-width="1.2"/>
<path d="M252.7 560.7 h4.4 M254.9 558.5 v4.4" stroke="#d80000" stroke-width="1.2"/>
<path d="M259.4 552.9 h4.4 M261.6 550.7 v4.4" stroke="#d80000" stroke-width="1.2"/>
<path d="M253.7 553.7 h4.4 M255.9 551.5 v4.4" stroke="#d80000" stroke-width="1.2"/>
<path d="M256.4 555.3 h4.4 M258.6 553.1 v4.4" stroke="#d80000" stroke-width="1.2"/>
<path d="M256.6 553.6 h4.4 M258.8 551.4 v4.4" stroke="#d80000" stroke-width="1.2"/>
<path d="M258.2 557.1 h4.4 M260.4 554.9 v4.4" stroke="#d80000" stroke-width="1.2"/>
<path d="M260.4 552.6 h4.4 M262.6 550.4 v4.4" stroke="#d80000" stroke-width="1.2"/>
<path d="M265.6 555.5 h4.4 M267.8 553.3 v4.4" stroke="#d80000" stroke-width="1.2"/>
<path d="M264 555.7 h4.4 M266.2 553.5 v4.4" stroke="#d80000" stroke-width="1.2"/>
<path d="M267.8 550.2 h4.4 M270 548 v4.4" stroke="#d80000" stroke-width="1.2"/>
<path d="M268 545.1 h4.4 M270.2 542.9 v4.4" stroke="#d80000" stroke-width="1.2"/>
<path d="M270.2 545 h4.4 M272.4 542.8 v4.4" stroke="#d80000" stroke-width="1.2"/>
<path d="M265.9 551.2 h4.4 M268.1 549 v4.4" stroke="#d80000" stroke-width="1.2"/>
<path d="M270.6 546.2 h4.4 M272.8 544 v4.4" stroke="#d80000" stroke-width="1.2"/>
<path d="M276.1 547.1 h4.4 M278.3 544.9 v4.4" stroke="#d80000" stroke-width="1.2"/>
<path d="M275.1 545 h4.4 M277.3 542.8 v4.4" stroke="#d80000" stroke-width="1.2"/>
<path d="M277.4 547.6 h4.4 M279.6 545.4 v4.4" stroke="#d80000" stroke-width="1.2"/>
<path d="M275.6 543.9 h4.4 M277.8 541.7 v4.4" stroke="#d80000" stroke-width="1.2"/>
<path d="M277.1 541 h4.4 M279.3 538.8 v4.4" stroke="#d80000" stroke-width="1.2"/>
<path d="M285 541.9 h4.4 M287.2 539.7 v4.4" stroke="#d80000" stroke-width="1.2"/>
<path d="M282.9 544.4 h4.4 M285.1 542.2 v4.4" stroke="#d80000" stroke-width="1.2"/>
<path d="M289.1 539.7 h4.4 M291.3 537.5 v4.4" stroke="#d80000" stroke-width="1.2"/>
<path d="M286.1 540.3 h4.4 M288.3 538.1 v4.4" stroke="#d80000" stroke-width="1.2"/>
<path d="M287.9 540.2 h4.4 M290.1 538 v4.4" stroke="#d80000" stroke-width="1.2"/>
<path d="M287.3 538.6 h4.4 M289.5 536.4 v4.4" stroke="#d80000" stroke-width="1.2"/>
<path d="M290.6 540.4 h4.4 M292.8 538.2 v4.4" stroke="#d80000" stroke-width="1.2"/>
<path d="M292.8 539.7 h4.4 M295 537.5 v4.4" stroke="#d80000" stroke-width="1.2"/>
<path d="M298.3 531 h4.4 M300.5 528.8 v4.4" stroke="#d80000" stroke-width="1.2"/>
<path d="M294.5 537.8 h4.4 M296.7 535.6 v4.4" stroke="#d80000" stroke-width="1.2"/>
<path d="M300.6 526.8 h4.4 M302.8 524.6 v4.4" stroke="#d80000" stroke-width="1.2"/>
<path d="M293.4 529.8 h4.4 M295.6 527.6 v4.4" stroke="#d80000" stroke-width="1.2"/>
<path d="M296.5 524.4 h4.4 M298.7 522.2 v4.4" stroke="#d80000" stroke-width="1.2"/>
<path d="M296.5 528.7 h4.4 M298.7 526.5 v4.4" stroke="#d80000" stroke-width="1.2"/>
<path d="M307.5 527 h4.4 M309.7 524.8 v4.4" stroke="#d80000" stroke-width="1.2"/>
<path d="M301.2 525.1 h4.4 M303.4 522.9 v4.4" stroke="#d80000" stroke-width="1.2"/>
<path d="M310.5 514.9 h4.4 M312.7 512.7 v4.4" stroke="#d80000" stroke-width="1.2"/>
<path d="M312.7 523.1 h4.4 M314.9 520.9 v4.4" stroke="#d80000" stroke-width="1.2"/>
<path d="M310.4 518.2 h4.4 M312.6 516 v4.4" stroke="#d80000" stroke-width="1.2"/>
<path d="M312.2 513.6 h4.4 M314.4 511.4 v4.4" stroke="#d80000" stroke-width="1.2"/>
<path d="M322.7 512.3 h4.4 M324.9 510.1 v4.4" stroke="#d80000" stroke-width="1.2"/>
<path d="M314.4 508.3 h4.4 M316.6 506.1 v4.4" stroke="#d80000" stroke-width="1.2"/>
<path d="M322.9 502.7 h4.4 M325.1 500.5 v4.4" stroke="#d80000" stroke-width="1.2"/>
<path d="M319.7 502.5 h4.4 M321.9 500.3 v4.4" stroke="#d80000" stroke-width="1.2"/>
<path d="M330.1 494.8 h4.4 M332.3 492.6 v4.4" stroke="#d80000" stroke-width="1.2"/>
<path d="M328.5 499 h4.4 M330.7 496.8 v4.4" stroke="#d80000" stroke-width="1.2"/>
<path d="M328.2 493.2 h4.4 M330.4 491 v4.4" stroke="#d80000" stroke-width="1.2"/>
<path d="M334.3 495 h4.4 M336.5 492.8 v4.4" stroke="#d80000" stroke-width="1.2"/>
<path d="M333.4 495.4 h4.4 M335.6 493.2 v4.4" stroke="#d80000" stroke-width="1.2"/>
<path d="M340.7 495.2 h4.4 M342.9 493 v4.4" stroke="#d80000" stroke-width="1.2"/>
<path d="M337.8 484.3 h4.4 M340 482.1 v4.4" stroke="#d80000" stroke-width="1.2"/>
<path d="M337.2 489.4 h4.4 M339.4 487.2 v4.4" stroke="#d80000" stroke-width="1.2"/>
<path d="M342.9 479.4 h4.4 M345.1 477.2 v4.4" stroke="#d80000" stroke-width="1.2"/>
<path d="M344.4 487.2 h4.4 M346.6 485 v4.4" stroke="#d80000" stroke-width="1.2"/>
<path d="M352 477 h4.4 M354.2 474.8 v4.4" stroke="#d80000" stroke-width="1.2"/>
<path d="M345.3 483.6 h4.4 M347.5 481.4 v4.4" stroke="#d80000" stroke-width="1.2"/>
<path d="M353.7 477 h4.4 M355.9 474.8 v4.4" stroke="#d80000" stroke-width="1.2"/>
<path d="M348.9 470.6 h4.4 M351.1 468.4 v4.4" stroke="#d80000" stroke-width="1.2"/>
<path d="M359.9 469.1 h4.4 M362.1 466.9 v4.4" stroke="#d80000" stroke-width="1.2"/>
<path d="M353.7 474.3 h4.4 M355.9 472.1 v4.4" stroke="#d80000" stroke-width="1.2"/>
<path d="M364.8 467.3 h4.4 M367 465.1 v4.4" stroke="#d80000" stroke-width="1.2"/>
<path d="M359.3 467.8 h4.4 M361.5 465.6 v4.4" stroke="#d80000" stroke-width="1.2"/>
<path d="M365.1 461.7 h4.4 M367.3 459.5 v4.4" stroke="#d80000" stroke-width="1.2"/>
<path d="M369 456.4 h4.4 M371.2 454.2 v4.4" stroke="#d80000" stroke-width="1.2"/>
<path d="M376.3 455.3 h4.4 M378.5 453.1 v4.4" stroke="#d80000" stroke-width="1.2"/>
<path d="M373.5 447.3 h4.4 M375.7 445.1 v4.4" stroke="#d80000" stroke-width="1.2"/>
<path d="M383.1 439.9 h4.4 M385.3 437.7 v4.4" stroke="#d80000" stroke-width="1.2"/>
<path d="M379 439.2 h4.4 M381.2 437 v4.4" stroke="#d80000" stroke-width="1.2"/>
<path d="M386 430 h4.4 M388.2 427.8 v4.4" stroke="#d80000" stroke-width="1.2"/>
<path d="M388.6 431 h4.4 M390.8 428.8 v4.4" stroke="#d80000" stroke-width="1.2"/>
<path d="M400.9 421.3 h4.4 M403.1 419.1 v4.4" stroke="#d80000" stroke-width="1.2"/>
<path d="M398.3 420.2 h4.4 M400.5 418 v4.4" stroke="#d80000" stroke-width="1.2"/>
<path d="M404.3 410.2 h4.4 M406.5 408 v4.4" stroke="#d80000" stroke-width="1.2"/>
<path d="M403.3 410.2 h4.4 M405.5 408 v4.4" stroke="#d80000" stroke-width="1.2"/>
<path d="M415.4 408.6 h4.4 M417.6 406.4 v4.4" stroke="#d80000" stroke-width="1.2"/>
<path d="M409.9 407.9 h4.4 M412.1 405.7 v4.4" stroke="#d80000" stroke-width="1.2"/>
<path d="M424.5 398.2 h4.4 M426.7 396 v4.4" stroke="#d80000" stroke-width="1.2"/>
<path d="M423.4 401.4 h4.4 M425.6 399.2 v4.4" stroke="#d80000" stroke-width="1.2"/>
<path d="M426.9 400 h4.4 M429.1 397.8 v4.4" stroke="#d80000" stroke-width="1.2"/>
<path d="M425.9 396.7 h4.4 M428.1 394.5 v4.4" stroke="#d80000" stroke-width="1.2"/>
<path d="M434.9 396.2 h4.4 M437.1 394 v4.4" stroke="#d80000" stroke-width="1.2"/>
<path d="M431.4 394.7 h4.4 M433.6 392.5 v4.4" stroke="#d80000" stroke-width="1.2"/>
<path d="M440.1 387.8 h4.4 M442.3 385.6 v4.4" stroke="#d80000" stroke-width="1.2"/>
<path d="M437.1 384.9 h4.4 M439.3 382.7 v4.4" stroke="#d80000" stroke-width="1.2"/>
<path d="M437.9 378.3 h4.4 M440.1 376.1 v4.4" stroke="#d80000" stroke-width="1.2"/>
<path d="M438.1 384.4 h4.4 M440.3 382.2 v4.4" stroke="#d80000" stroke-width="1.2"/>
<path d="M443.9 374.1 h4.4 M446.1 371.9 v4.4" stroke="#d80000" stroke-width="1.2"/>
<path d="M442.2 380.9 h4.4 M444.4 378.7 v4.4" stroke="#d80000" stroke-width="1.2"/>
<path d="M454.2 374.4 h4.4 M456.4 372.2 v4.4" stroke="#d80000" stroke-width="1.2"/>
<path d="M448.3 370.1 h4.4 M450.5 367.9 v4.4" stroke="#d80000" stroke-width="1.2"/>
<path d="M453 366.8 h4.4 M455.2 364.6 v4.4" stroke="#d80000" stroke-width="1.2"/>
<path d="M451.6 366.7 h4.4 M453.8 364.5 v4.4" stroke="#d80000" stroke-width="1.2"/>
<path d="M457.3 365.9 h4.4 M459.5 363.7 v4.4" stroke="#d80000" stroke-width="1.2"/>
<path d="M464.4 361.8 h4.4 M466.6 359.6 v4.4" stroke="#d80000" stroke-width="1.2"/>
<path d="M461.6 360.2 h4.4 M463.8 358 v4.4" stroke="#d80000" stroke-width="1.2"/>
<path d="M462.2 354.1 h4.4 M464.4 351.9 v4.4" stroke="#d80000" stroke-width="1.2"/>
<path d="M463.1 349.2 h4.4 M465.3 347 v4.4" stroke="#d80000" stroke-width="1.2"/>
<path d="M467.8 350.4 h4.4 M470 348.2 v4.4" stroke="#d80000" stroke-width="1.2"/>
<path d="M468.5 346.2 h4.4 M470.7 344 v4.4" stroke="#d80000" stroke-width="1.2"/>
<path d="M466.5 343.8 h4.4 M468.7 341.6 v4.4" stroke="#d80000" stroke-width="1.2"/>
<path d="M470.4 341.5 h4.4 M472.6 339.3 v4.4" stroke="#d80000" stroke-width="1.2"/>
<path d="M469.9 337.7 h4.4 M472.1 335.5 v4.4" stroke="#d80000" stroke-width="1.2"/>
<path d="M475.2 336.3 h4.4 M477.4 334.1 v4.4" stroke="#d80000" stroke-width="1.2"/>
<path d="M478 339.3 h4.4 M480.2 337.1 v4.4" stroke="#d80000" stroke-width="1.2"/>
<path d="M482.3 336.8 h4.4 M484.5 334.6 v4.4" stroke="#d80000" stroke-width="1.2"/>
<path d="M482 339 h4.4 M484.2 336.8 v4.4" stroke="#d80000" stroke-width="1.2"/>
<path d="M481.2 329.2 h4.4 M483.4 327 v4.4" stroke="#d80000" stroke-width="1.2"/>
<path d="M487.2 327.4 h4.4 M489.4 325.2 v4.4" stroke="#d80000" stroke-width="1.2"/>
<path d="M487 327.8 h4.4 M489.2 325.6 v4.4" stroke="#d80000" stroke-width="1.2"/>
<path d="M480.2 329.8 h4.4 M482.4 327.6 v4.4" stroke="#d80000" stroke-width="1.2"/>
<path d="M490.9 323.2 h4.4 M493.1 321 v4.4" stroke="#d80000" stroke-width="1.2"/>
<path d="M489.3 325 h4.4 M491.5 322.8 v4.4" stroke="#d80000" stroke-width="1.2"/>
<path d="M485.6 317.8 h4.4 M487.8 315.6 v4.4" stroke="#d80000" stroke-width="1.2"/>
<path d="M489.2 320.9 h4.4 M491.4 318.7 v4.4" stroke="#d80000" stroke-width="1.2"/>
<path d="M494.4 316.7 h4.4 M496.6 314.5 v4.4" stroke="#d80000" stroke-width="1.2"/>
<path d="M492.2 317.4 h4.4 M494.4 315.2 v4.4" stroke="#d80000" stroke-width="1.2"/>
<path d="M495.4 311.3 h4.4 M497.6 309.1 v4.4" stroke="#d80000" stroke-width="1.2"/>
<path d="M490.8 304.7 h4.4 M493 302.5 v4.4" stroke="#d80000" stroke-width="1.2"/>
<path d="M491.9 304.2 h4.4 M494.1 302 v4.4" stroke="#d80000" stroke-width="1.2"/>
<path d="M491.6 308.9 h4.4 M493.8 306.7 v4.4" stroke="#d80000" stroke-width="1.2"/>
<path d="M498 303.6 h4.4 M500.2 301.4 v4.4" stroke="#d80000" stroke-width="1.2"/>
<path d="M498.7 304.1 h4.4 M500.9 301.9 v4.4" stroke="#d80000" stroke-width="1.2"/>
<path d="M498.7 294.8 h4.4 M500.9 292.6 v4.4" stroke="#d80000" stroke-width="1.2"/>
<path d="M501.8 302.3 h4.4 M504 300.1 v4.4" stroke="#d80000" stroke-width="1.2"/>
<path d="M499.9 298.2 h4.4 M502.1 296 v4.4" stroke="#d80000" stroke-width="1.2"/>
<path d="M501.4 293.5 h4.4 M503.6 291.3 v4.4" stroke="#d80000" stroke-width="1.2"/>
<path d="M503.4 293.6 h4.4 M505.6 291.4 v4.4" stroke="#d80000" stroke-width="1.2"/>
<path d="M496.8 293.7 h4.4 M499 291.5 v4.4" stroke="#d80000" stroke-width="1.2"/>
<path d="M505.1 291.1 h4.4 M507.3 288.9 v4.4" stroke="#d80000" stroke-width="1.2"/>
<path d="M505.2 298.8 h4.4 M507.4 296.6 v4.4" stroke="#d80000" stroke-width="1.2"/>
<path d="M505.3 290.5 h4.4 M507.5 288.3 v4.4" stroke="#d80000" stroke-width="1.2"/>
<path d="M505.1 293.5 h4.4 M507.3 291.3 v4.4" stroke="#d80000" stroke-width="1.2"/>
<path d="M511 290.4 h4.4 M513.2 288.2 v4.4" stroke="#d80000" stroke-width="1.2"/>
<path d="M509.8 285 h4.4 M512 282.8 v4.4" stroke="#d80000" stroke-width="1.2"/>
<path d="M508.2 284.2 h4.4 M510.4 282 v4.4" stroke="#d80000" stroke-width="1.2"/>
<path d="M514.2 284.7 h4.4 M516.4 282.5 v4.4" stroke="#d80000" stroke-width="1.2"/>
<path d="M516.1 278.9 h4.4 M518.3 276.7 v4.4" stroke="#d80000" stroke-width="1.2"/>
<path d="M511 281.4 h4.4 M513.2 279.2 v4.4" stroke="#d80000" stroke-width="1.2"/>
<path d="M521.2 282.4 h4.4 M523.4 280.2 v4.4" stroke="#d80000" stroke-width="1.2"/>
<path d="M521.2 278.4 h4.4 M523.4 276.2 v4.4" stroke="#d80000" stroke-width="1.2"/>
<path d="M524.2 276.5 h4.4 M526.4 274.3 v4.4" stroke="#d80000" stroke-width="1.2"/>
<path d="M523.7 273 h4.4 M525.9 270.8 v4.4" stroke="#d80000" stroke-width="1.2"/>
<path d="M532.5 270.1 h4.4 M534.7 267.9 v4.4" stroke="#d80000" stroke-width="1.2"/>
<path d="M533.4 277.5 h4.4 M535.6 275.3 v4.4" stroke="#d80000" stroke-width="1.2"/>
<path d="M528 269.3 h4.4 M530.2 267.1 v4.4" stroke="#d80000" stroke-width="1.2"/>
<path d="M536 274.4 h4.4 M538.2 272.2 v4.4" stroke="#d80000" stroke-width="1.2"/>
<path d="M536 264.3 h4.4 M538.2 262.1 v4.4" stroke="#d80000" stroke-width="1.2"/>
<path d="M533.6 271.1 h4.4 M535.8 268.9 v4.4" stroke="#d80000" stroke-width="1.2"/>
<path d="M537 264.5 h4.4 M539.2 262.3 v4.4" stroke="#d80000" stroke-width="1.2"/>
<path d="M536.3 264 h4.4 M538.5 261.8 v4.4" stroke="#d80000" stroke-width="1.2"/>
<path d="M547.8 257.2 h4.4 M550 255 v4.4" stroke="#d80000" stroke-width="1.2"/>
<path d="M546.4 261 h4.4 M548.6 258.8 v4.4" stroke="#d80000" stroke-width="1.2"/>
<path d="M550.7 260 h4.4 M552.9 257.8 v4.4" stroke="#d80000" stroke-width="1.2"/>
<path d="M544.1 262 h4.4 M546.3 259.8 v4.4" stroke="#d80000" stroke-width="1.2"/>
<path d="M550.6 250.4 h4.4 M552.8 248.2 v4.4" stroke="#d80000" stroke-width="1.2"/>
<path d="M545.8 255 h4.4 M548 252.8 v4.4" stroke="#d80000" stroke-width="1.2"/>
<path d="M554.4 250.3 h4.4 M556.6 248.1 v4.4" stroke="#d80000" stroke-width="1.2"/>
<path d="M551.3 250.7 h4.4 M553.5 248.5 v4.4" stroke="#d80000" stroke-width="1.2"/>
<path d="M557.1 252.7 h4.4 M559.3 250.5 v4.4" stroke="#d80000" stroke-width="1.2"/>
<path d="M554 251.8 h4.4 M556.2 249.6 v4.4" stroke="#d80000" stroke-width="1.2"/>
<path d="M566.2 242.2 h4.4 M568.4 240 v4.4" stroke="#d80000" stroke-width="1.2"/>
<path d="M567.1 248.1 h4.4 M569.3 245.9 v4.4" stroke="#d80000" stroke-width="1.2"/>
<path d="M570.3 240.2 h4.4 M572.5 238 v4.4" stroke="#d80000" stroke-width="1.2"/>
<path d="M565 241.2 h4.4 M567.2 239 v4.4" stroke="#d80000" stroke-width="1.2"/>
<path d="M574.5 239.1 h4.4 M576.7 236.9 v4.4" stroke="#d80000" stroke-width="1.2"/>
<path d="M568.2 237.5 h4.4 M570.4 235.3 v4.4" stroke="#d80000" stroke-width="1.2"/>
<path d="M570.4 229.5 h4.4 M572.6 227.3 v4.4" stroke="#d80000" stroke-width="1.2"/>
<path d="M568.7 237.4 h4.4 M570.9 235.2 v4.4" stroke="#d80000" stroke-width="1.2"/>
<path d="M573.7 234.4 h4.4 M575.9 232.2 v4.4" stroke="#d80000" stroke-width="1.2"/>
<path d="M573.3 227.7 h4.4 M575.5 225.5 v4.4" stroke="#d80000" stroke-width="1.2"/>
<path d="M578.9 222.9 h4.4 M581.1 220.7 v4.4" stroke="#d80000" stroke-width="1.2"/>
<path d="M577.5 230.6 h4.4 M579.7 228.4 v4.4" stroke="#d80000" stroke-width="1.2"/>
<path d="M585.5 225.1 h4.4 M587.7 222.9 v4.4" stroke="#d80000" stroke-width="1.2"/>
<path d="M583 226.1 h4.4 M585.2 223.9 v4.4" stroke="#d80000" stroke-width="1.2"/>
<path d="M589 218.7 h4.4 M591.2 216.5 v4.4" stroke="#d80000" stroke-width="1.2"/>
<path d="M586.8 213.7 h4.4 M589 211.5 v4.4" stroke="#d80000" stroke-width="1.2"/>
<path d="M590.1 214.5 h4.4 M592.3 212.3 v4.4" stroke="#d80000" stroke-width="1.2"/>
<path d="M590.3 216.4 h4.4 M592.5 214.2 v4.4" stroke="#d80000" stroke-width="1.2"/>
<path d="M589.7 207.9 h4.4 M591.9 205.7 v4.4" stroke="#d80000" stroke-width="1.2"/>
<path d="M596.1 208.7 h4.4 M598.3 206.5 v4.4" stroke="#d80000" stroke-width="1.2"/>
<path d="M596 208.8 h4.4 M598.2 206.6 v4.4" stroke="#d80000" stroke-width="1.2"/>
<path d="M594.3 212.8 h4.4 M596.5 210.6 v4.4" stroke="#d80000" stroke-width="1.2"/>
<path d="M605.2 206.4 h4.4 M607.4 204.2 v4.4" stroke="#d80000" stroke-width="1.2"/>
<path d="M602 206.8 h4.4 M604.2 204.6 v4.4" stroke="#d80000" stroke-width="1.2"/>
<path d="M603.9 206.5 h4.4 M606.1 204.3 v4.4" stroke="#d80000" stroke-width="1.2"/>
<path d="M600 204.2 h4.4 M602.2 202 v4.4" stroke="#d80000" stroke-width="1.2"/>
<path d="M166.7 568.5 h3.6 M168.5 565.3 v6.4" stroke="#c01030" stroke-width="1.6"/>
<path d="M170.7 568.5 h3.6 M172.5 565.3 v6.4" stroke="#c01030" stroke-width="1.6"/>
<path d="M174.7 568.5 h3.6 M176.5 565.3 v6.4" stroke="#c01030" stroke-width="1.6"/>
<path d="M179.2 568.5 h3.6 M181 565.3 v6.4" stroke="#c01030" stroke-width="1.6"/>
<path d="M195.4 568 h5.2 M198 565.4 v5.2" stroke="#d80000" stroke-width="1.6"/>
<path d="M197.9 567.5 h5.2 M200.5 564.9 v5.2" stroke="#d80000" stroke-width="1.6"/>
<path d="M202.4 567.5 h5.2 M205 564.9 v5.2" stroke="#d80000" stroke-width="1.6"/>
<path d="M205.4 567 h5.2 M208 564.4 v5.2" stroke="#d80000" stroke-width="1.6"/>
<path d="M207.4 566.8 h5.2 M210 564.2 v5.2" stroke="#d80000" stroke-width="1.6"/>
<path d="M212.9 566 h5.2 M215.5 563.4 v5.2" stroke="#d80000" stroke-width="1.6"/>
<path d="M215.4 566 h5.2 M218 563.4 v5.2" stroke="#d80000" stroke-width="1.6"/>
<path d="M218.4 565.5 h5.2 M221 562.9 v5.2" stroke="#d80000" stroke-width="1.6"/>
<path d="M221.4 565 h5.2 M224 562.4 v5.2" stroke="#d80000" stroke-width="1.6"/>
<path d="M223.4 564.5 h5.2 M226 561.9 v5.2" stroke="#d80000" stroke-width="1.6"/>
<path d="M556.5 254.9 L557.7 256.1 L559.8 257.4 L557.1 259.8 L556.6 261.7 L555.7 263.6 L552.8 264 L551.9 266.3 L549.9 267.7 L547.6 269 L546.6 265.8 L544.6 266.4 L544.1 264.9 L539.9 266.2 L539.7 264.2 L542.8 261.5 L538.3 260.3 L539.4 257.9 L542.1 256.3 L543.9 254.7 L546.7 255.1 L548.4 254.9 L550.2 252.3 L551.3 254.4 L553.1 254.1 L554.5 254.6 Z" fill="#d80000"/>
<path d="M535.1 267.3 h3.6 M536.9 265.5 v3.6" stroke="#d80000" stroke-width="1.5"/>
<path d="M555.7 254.5 h4 M557.7 252.5 v4" stroke="#d80000" stroke-width="1.5"/>
<path d="M549.2 263 h3.6 M551 261.2 v3.6" stroke="#d80000" stroke-width="1.5"/>
<path d="M550.3 253.1 h3.1 M551.9 251.6 v3.1" stroke="#d80000" stroke-width="1.5"/>
<path d="M536.3 255.8 h4.3 M538.4 253.6 v4.3" stroke="#d80000" stroke-width="1.5"/>
<path d="M549.1 268 h3.5 M550.8 266.3 v3.5" stroke="#d80000" stroke-width="1.5"/>
<path d="M556.4 252.5 h4.8 M558.8 250.1 v4.8" stroke="#d80000" stroke-width="1.5"/>
<path d="M539.2 254 h4 M541.2 252 v4" stroke="#d80000" stroke-width="1.5"/>
<path d="M551.6 251.1 h2.8 M553 249.7 v2.8" stroke="#d80000" stroke-width="1.5"/>
<path d="M548.5 271.3 h4.3 M550.6 269.1 v4.3" stroke="#d80000" stroke-width="1.5"/>
<path d="M535 261.9 h2.8 M536.4 260.5 v2.8" stroke="#d80000" stroke-width="1.5"/>
<path d="M540 266.5 h3.6 M541.8 264.7 v3.6" stroke="#d80000" stroke-width="1.5"/>
<path d="M542.8 269.5 h2.9 M544.2 268 v2.9" stroke="#d80000" stroke-width="1.5"/>
<path d="M546 250.6 h3.5 M547.8 248.8 v3.5" stroke="#d80000" stroke-width="1.5"/>
<path d="M536.7 260.7 h4.7 M539 258.3 v4.7" stroke="#d80000" stroke-width="1.5"/>
<path d="M551.8 251.3 h4.5 M554.1 249 v4.5" stroke="#d80000" stroke-width="1.5"/>
<path d="M538.3 263 h4.5 M540.5 260.7 v4.5" stroke="#d80000" stroke-width="1.5"/>
<path d="M545.2 250.3 h4.8 M547.5 248 v4.8" stroke="#d80000" stroke-width="1.5"/>
<path d="M536.7 260.5 h4.3 M538.9 258.3 v4.3" stroke="#d80000" stroke-width="1.5"/>
<path d="M540.9 259.2 h2.8 M542.2 257.8 v2.8" stroke="#d80000" stroke-width="1.5"/>
<path d="M538.3 268.4 h3.1 M539.9 266.9 v3.1" stroke="#d80000" stroke-width="1.5"/>
<path d="M548.1 256 h3.6 M549.9 254.2 v3.6" stroke="#d80000" stroke-width="1.5"/>
<path d="M558.2 251.9 h3.9 M560.2 250 v3.9" stroke="#d80000" stroke-width="1.5"/>
<path d="M552.7 248 h2.9 M554.1 246.6 v2.9" stroke="#d80000" stroke-width="1.5"/>
<path d="M536.8 258.6 h4.2 M538.9 256.5 v4.2" stroke="#d80000" stroke-width="1.5"/>
<path d="M549.2 256.8 h2.8 M550.6 255.4 v2.8" stroke="#d80000" stroke-width="1.5"/>
<path d="M543.5 268.1 h3.2 M545.1 266.6 v3.2" stroke="#d80000" stroke-width="1.5"/>
<path d="M556.6 256.3 h3.2 M558.2 254.6 v3.2" stroke="#d80000" stroke-width="1.5"/>
<path d="M542.3 269.5 h2.8 M543.7 268.1 v2.8" stroke="#d80000" stroke-width="1.5"/>
<path d="M540.8 265.7 h4.5 M543 263.4 v4.5" stroke="#d80000" stroke-width="1.5"/>
<path d="M546.8 254.1 h4.6 M549.1 251.8 v4.6" stroke="#d80000" stroke-width="1.5"/>
<path d="M541.2 262.9 h2.7 M542.6 261.6 v2.7" stroke="#d80000" stroke-width="1.5"/>
<path d="M537.4 263.1 h3.9 M539.4 261.2 v3.9" stroke="#d80000" stroke-width="1.5"/>
<path d="M535.9 263.7 h4.6 M538.2 261.5 v4.6" stroke="#d80000" stroke-width="1.5"/>
<path d="M553.3 258.3 h2.9 M554.8 256.8 v2.9" stroke="#d80000" stroke-width="1.5"/>
<path d="M559.3 256.7 h4.7 M561.7 254.3 v4.7" stroke="#d80000" stroke-width="1.5"/>
<path d="M537 270.6 h3.7 M538.8 268.8 v3.7" stroke="#d80000" stroke-width="1.5"/>
<path d="M550.1 252.8 h4.8 M552.5 250.4 v4.8" stroke="#d80000" stroke-width="1.5"/>
<path d="M536.9 268 h4.2 M539.1 265.9 v4.2" stroke="#d80000" stroke-width="1.5"/>
<path d="M559.8 257.5 h4.1 M561.9 255.5 v4.1" stroke="#d80000" stroke-width="1.5"/>
<path d="M545.3 265.9 h4.6 M547.6 263.6 v4.6" stroke="#d80000" stroke-width="1.5"/>
<path d="M555 252.2 h4.3 M557.2 250 v4.3" stroke="#d80000" stroke-width="1.5"/>
<path d="M556.9 255.2 h4 M558.9 253.2 v4" stroke="#d80000" stroke-width="1.5"/>
<path d="M545.1 263.5 h3.9 M547.1 261.5 v3.9" stroke="#d80000" stroke-width="1.5"/>
<path d="M537.9 269.6 h4.8 M540.3 267.2 v4.8" stroke="#d80000" stroke-width="1.5"/>
<path d="M559.5 257.7 h3.5 M561.2 256 v3.5" stroke="#d80000" stroke-width="1.5"/>
<path d="M554 257.5 h3.6 M555.8 255.7 v3.6" stroke="#d80000" stroke-width="1.5"/>
<path d="M549.7 257.9 h3.1 M551.3 256.4 v3.1" stroke="#d80000" stroke-width="1.5"/>
<path d="M551.9 256.6 h4 M553.9 254.6 v4" stroke="#d80000" stroke-width="1.5"/>
<path d="M555.1 248.4 h2.6 M556.4 247.1 v2.6" stroke="#d80000" stroke-width="1.5"/>
<path d="M544.8 266.6 h3 M546.3 265.1 v3" stroke="#d80000" stroke-width="1.5"/>
<path d="M550 256.2 h4.6 M552.2 254 v4.6" stroke="#d80000" stroke-width="1.5"/>
<path d="M545.3 265.9 h3 M546.8 264.4 v3" stroke="#d80000" stroke-width="1.5"/>
<path d="M548.8 266.7 h4.6 M551.1 264.4 v4.6" stroke="#d80000" stroke-width="1.5"/>
<path d="M555 251.5 h3.9 M557 249.5 v3.9" stroke="#d80000" stroke-width="1.5"/>
<path d="M538.1 256.5 h3.7 M539.9 254.7 v3.7" stroke="#d80000" stroke-width="1.5"/>
<path d="M559.6 260.6 h4.2 M561.7 258.5 v4.2" stroke="#d80000" stroke-width="1.5"/>
<path d="M538.6 264.7 h3.2 M540.2 263.1 v3.2" stroke="#d80000" stroke-width="1.5"/>
<path d="M538.9 263.3 h4 M540.9 261.3 v4" stroke="#d80000" stroke-width="1.5"/>
<path d="M544.3 256.8 h4.4 M546.6 254.5 v4.4" stroke="#d80000" stroke-width="1.5"/>
<path d="M559 251 h2.8 M560.3 249.6 v2.8" stroke="#d80000" stroke-width="1.5"/>
<path d="M546.2 255.3 h4.3 M548.4 253.2 v4.3" stroke="#d80000" stroke-width="1.5"/>
<path d="M539.8 252.1 h4.4 M542 249.9 v4.4" stroke="#d80000" stroke-width="1.5"/>
<path d="M536.7 257.9 h2.7 M538 256.6 v2.7" stroke="#d80000" stroke-width="1.5"/>
<path d="M549.5 256.8 h4 M551.5 254.8 v4" stroke="#d80000" stroke-width="1.5"/>
<path d="M554.3 263 h4.7 M556.7 260.6 v4.7" stroke="#d80000" stroke-width="1.5"/>
<path d="M548 251.4 h3.6 M549.8 249.6 v3.6" stroke="#d80000" stroke-width="1.5"/>
<path d="M549.5 264.4 h3 M551 262.9 v3" stroke="#d80000" stroke-width="1.5"/>
<path d="M539.4 261.1 h4.1 M541.4 259 v4.1" stroke="#d80000" stroke-width="1.5"/>
<path d="M548.8 261.7 h4.3 M550.9 259.6 v4.3" stroke="#d80000" stroke-width="1.5"/>
<path d="M547.7 267.1 h4.6 M550 264.8 v4.6" stroke="#d80000" stroke-width="1.5"/>
<path d="M548.1 249.5 h3.6 M549.9 247.7 v3.6" stroke="#d80000" stroke-width="1.5"/>
<path d="M555.5 265.3 h3.4 M557.2 263.6 v3.4" stroke="#d80000" stroke-width="1.5"/>
<path d="M553.2 265.7 h4.4 M555.4 263.5 v4.4" stroke="#d80000" stroke-width="1.5"/>
<path d="M557.5 251.8 h4 M559.5 249.8 v4" stroke="#d80000" stroke-width="1.5"/>
<path d="M542.2 269 h4.4 M544.5 266.8 v4.4" stroke="#d80000" stroke-width="1.5"/>
<path d="M553.7 261.6 h3.1 M555.2 260 v3.1" stroke="#d80000" stroke-width="1.5"/>
<path d="M559.1 252.6 h4.3 M561.3 250.4 v4.3" stroke="#d80000" stroke-width="1.5"/>
<path d="M547.4 270.5 h4.5 M549.6 268.2 v4.5" stroke="#d80000" stroke-width="1.5"/>
<path d="M538.3 255 h3.6 M540.1 253.2 v3.6" stroke="#d80000" stroke-width="1.5"/>
<path d="M551.7 264 h3.7 M553.6 262.2 v3.7" stroke="#d80000" stroke-width="1.5"/>
<path d="M536.7 262.5 h4.3 M538.9 260.4 v4.3" stroke="#d80000" stroke-width="1.5"/>
<path d="M550 263.8 h4.4 M552.2 261.6 v4.4" stroke="#d80000" stroke-width="1.5"/>
<path d="M557.4 264.9 h3.7 M559.2 263 v3.7" stroke="#d80000" stroke-width="1.5"/>
<path d="M540.8 265.2 h3.2 M542.4 263.6 v3.2" stroke="#d80000" stroke-width="1.5"/>
<path d="M554.5 258.6 h3.8 M556.4 256.8 v3.8" stroke="#d80000" stroke-width="1.5"/>
<path d="M556.6 255.3 h3.3 M558.3 253.6 v3.3" stroke="#d80000" stroke-width="1.5"/>
<path d="M548.1 268.3 h4.6 M550.3 266 v4.6" stroke="#d80000" stroke-width="1.5"/>
<path d="M543.8 271.3 h4.7 M546.1 268.9 v4.7" stroke="#d80000" stroke-width="1.5"/>
<path d="M549 260.9 h3 M550.5 259.4 v3" stroke="#d80000" stroke-width="1.5"/>
<path d="M594.6 214.6 L595.7 216.4 L597.1 218 L593.1 223.2 L598.7 223.4 L594.5 227.7 L592.2 230.9 L591.3 235.4 L587.9 237.4 L585.1 239.2 L582 242.4 L581.1 238.2 L577.3 242.2 L576.1 240.4 L571.4 242.8 L570.8 239.8 L575.2 233.8 L574.5 231.5 L577.7 228.2 L577.7 225 L578.6 220.6 L581.5 216.8 L584.9 216.9 L587.4 216.5 L589.3 216.8 L593.1 213.2 Z" fill="#d80000"/>
<path d="M567.9 236.8 h4.1 M570 234.8 v4.1" stroke="#d80000" stroke-width="1.5"/>
<path d="M574.6 233.3 h4 M576.6 231.4 v4" stroke="#d80000" stroke-width="1.5"/>
<path d="M576.5 248.2 h2.9 M577.9 246.8 v2.9" stroke="#d80000" stroke-width="1.5"/>
<path d="M578.5 223.8 h3 M580 222.3 v3" stroke="#d80000" stroke-width="1.5"/>
<path d="M582.9 225.8 h3.4 M584.6 224 v3.4" stroke="#d80000" stroke-width="1.5"/>
<path d="M581.5 232.1 h3 M583 230.6 v3" stroke="#d80000" stroke-width="1.5"/>
<path d="M576.8 242.5 h4 M578.8 240.5 v4" stroke="#d80000" stroke-width="1.5"/>
<path d="M591.4 232.1 h3.9 M593.3 230.1 v3.9" stroke="#d80000" stroke-width="1.5"/>
<path d="M588 208.9 h4.2 M590.1 206.8 v4.2" stroke="#d80000" stroke-width="1.5"/>
<path d="M573.2 233 h4.6 M575.5 230.7 v4.6" stroke="#d80000" stroke-width="1.5"/>
<path d="M580.3 242.5 h3.2 M581.9 240.9 v3.2" stroke="#d80000" stroke-width="1.5"/>
<path d="M587.3 235.7 h2.9 M588.8 234.3 v2.9" stroke="#d80000" stroke-width="1.5"/>
<path d="M584.7 234.9 h2.6 M586 233.6 v2.6" stroke="#d80000" stroke-width="1.5"/>
<path d="M577.5 243.4 h4.6 M579.8 241.1 v4.6" stroke="#d80000" stroke-width="1.5"/>
<path d="M588.8 231.7 h3.7 M590.6 229.8 v3.7" stroke="#d80000" stroke-width="1.5"/>
<path d="M582.7 215.4 h2.8 M584 214.1 v2.8" stroke="#d80000" stroke-width="1.5"/>
<path d="M585 226 h3.9 M586.9 224.1 v3.9" stroke="#d80000" stroke-width="1.5"/>
<path d="M566.1 238.2 h3 M567.6 236.7 v3" stroke="#d80000" stroke-width="1.5"/>
<path d="M587.8 233.6 h3.3 M589.5 231.9 v3.3" stroke="#d80000" stroke-width="1.5"/>
<path d="M582.6 229.6 h3.5 M584.3 227.9 v3.5" stroke="#d80000" stroke-width="1.5"/>
<path d="M575.7 216.4 h4.1 M577.8 214.3 v4.1" stroke="#d80000" stroke-width="1.5"/>
<path d="M586.9 208.6 h3.6 M588.7 206.8 v3.6" stroke="#d80000" stroke-width="1.5"/>
<path d="M588.7 216.4 h3 M590.2 214.9 v3" stroke="#d80000" stroke-width="1.5"/>
<path d="M573.8 242.4 h2.6 M575.1 241 v2.6" stroke="#d80000" stroke-width="1.5"/>
<path d="M601.2 215.9 h4.2 M603.3 213.9 v4.2" stroke="#d80000" stroke-width="1.5"/>
<path d="M596.9 214.7 h3.5 M598.6 213 v3.5" stroke="#d80000" stroke-width="1.5"/>
<path d="M585.7 223.9 h4.8 M588.1 221.5 v4.8" stroke="#d80000" stroke-width="1.5"/>
<path d="M586.8 211.5 h4.6 M589.1 209.1 v4.6" stroke="#d80000" stroke-width="1.5"/>
<path d="M596.1 221.9 h4.4 M598.3 219.7 v4.4" stroke="#d80000" stroke-width="1.5"/>
<path d="M588.3 238 h4.5 M590.5 235.7 v4.5" stroke="#d80000" stroke-width="1.5"/>
<path d="M594.4 223.8 h4.3 M596.5 221.7 v4.3" stroke="#d80000" stroke-width="1.5"/>
<path d="M585.5 235.4 h2.8 M586.9 234 v2.8" stroke="#d80000" stroke-width="1.5"/>
<path d="M578.2 234.2 h2.6 M579.6 232.9 v2.6" stroke="#d80000" stroke-width="1.5"/>
<path d="M581.6 236.2 h4 M583.6 234.2 v4" stroke="#d80000" stroke-width="1.5"/>
<path d="M584.6 218.5 h4.1 M586.6 216.5 v4.1" stroke="#d80000" stroke-width="1.5"/>
<path d="M586.1 225.6 h3.5 M587.8 223.8 v3.5" stroke="#d80000" stroke-width="1.5"/>
<path d="M594.2 223.4 h4.8 M596.6 221.1 v4.8" stroke="#d80000" stroke-width="1.5"/>
<path d="M570.9 249.9 h4.2 M573 247.8 v4.2" stroke="#d80000" stroke-width="1.5"/>
<path d="M574.2 236.8 h2.7 M575.6 235.4 v2.7" stroke="#d80000" stroke-width="1.5"/>
<path d="M571.8 239 h2.8 M573.2 237.6 v2.8" stroke="#d80000" stroke-width="1.5"/>
<path d="M584.1 244.7 h3.8 M586 242.8 v3.8" stroke="#d80000" stroke-width="1.5"/>
<path d="M593.2 234.7 h3.8 M595.1 232.8 v3.8" stroke="#d80000" stroke-width="1.5"/>
<path d="M592.1 227.8 h2.7 M593.4 226.4 v2.7" stroke="#d80000" stroke-width="1.5"/>
<path d="M575.3 224.2 h3.7 M577.1 222.3 v3.7" stroke="#d80000" stroke-width="1.5"/>
<path d="M576.7 216.6 h4.7 M579 214.3 v4.7" stroke="#d80000" stroke-width="1.5"/>
<path d="M581.2 231.8 h3.9 M583.2 229.8 v3.9" stroke="#d80000" stroke-width="1.5"/>
<path d="M574.4 230.4 h4 M576.4 228.4 v4" stroke="#d80000" stroke-width="1.5"/>
<path d="M580.2 222.2 h4.2 M582.3 220.1 v4.2" stroke="#d80000" stroke-width="1.5"/>
<path d="M578.3 246.4 h3.5 M580 244.6 v3.5" stroke="#d80000" stroke-width="1.5"/>
<path d="M600.9 214.9 h2.7 M602.3 213.6 v2.7" stroke="#d80000" stroke-width="1.5"/>
<path d="M580 230.6 h4.7 M582.4 228.3 v4.7" stroke="#d80000" stroke-width="1.5"/>
<path d="M575.4 239.2 h4.7 M577.7 236.9 v4.7" stroke="#d80000" stroke-width="1.5"/>
<path d="M588.7 218.1 h4.8 M591.1 215.7 v4.8" stroke="#d80000" stroke-width="1.5"/>
<path d="M595.3 216.2 h2.9 M596.8 214.7 v2.9" stroke="#d80000" stroke-width="1.5"/>
<path d="M586.3 222.1 h3 M587.8 220.6 v3" stroke="#d80000" stroke-width="1.5"/>
<path d="M570.6 247.4 h2.9 M572 245.9 v2.9" stroke="#d80000" stroke-width="1.5"/>
<path d="M585 233 h3.6 M586.8 231.2 v3.6" stroke="#d80000" stroke-width="1.5"/>
<path d="M577.8 239.3 h3.5 M579.5 237.5 v3.5" stroke="#d80000" stroke-width="1.5"/>
<path d="M591.7 216.7 h4.8 M594.1 214.3 v4.8" stroke="#d80000" stroke-width="1.5"/>
<path d="M566.6 233.2 h4.6 M568.9 230.9 v4.6" stroke="#d80000" stroke-width="1.5"/>
<path d="M594.5 217.9 h3.4 M596.2 216.2 v3.4" stroke="#d80000" stroke-width="1.5"/>
<path d="M580.1 240.5 h3.8 M582 238.5 v3.8" stroke="#d80000" stroke-width="1.5"/>
<path d="M588.5 226.1 h4.3 M590.6 224 v4.3" stroke="#d80000" stroke-width="1.5"/>
<path d="M567.9 237.3 h4.8 M570.3 234.9 v4.8" stroke="#d80000" stroke-width="1.5"/>
<path d="M574.5 236.6 h4 M576.5 234.6 v4" stroke="#d80000" stroke-width="1.5"/>
<path d="M572.5 245.4 h2.8 M573.9 244.1 v2.8" stroke="#d80000" stroke-width="1.5"/>
<path d="M574.3 248.2 h3.8 M576.2 246.3 v3.8" stroke="#d80000" stroke-width="1.5"/>
<path d="M584.5 220.5 h3.7 M586.3 218.7 v3.7" stroke="#d80000" stroke-width="1.5"/>
<path d="M570.8 237.9 h4.2 M572.9 235.8 v4.2" stroke="#d80000" stroke-width="1.5"/>
<path d="M578.1 248.8 h4 M580 246.8 v4" stroke="#d80000" stroke-width="1.5"/>
<path d="M585.3 212.3 h3.5 M587.1 210.5 v3.5" stroke="#d80000" stroke-width="1.5"/>
<path d="M582.5 242.9 h3.4 M584.2 241.2 v3.4" stroke="#d80000" stroke-width="1.5"/>
<path d="M578.6 236.1 h4.2 M580.7 234 v4.2" stroke="#d80000" stroke-width="1.5"/>
<path d="M594.5 209.1 h3.4 M596.2 207.4 v3.4" stroke="#d80000" stroke-width="1.5"/>
<path d="M584.6 225.1 h4.1 M586.6 223 v4.1" stroke="#d80000" stroke-width="1.5"/>
<path d="M583.4 240.7 h2.8 M584.7 239.3 v2.8" stroke="#d80000" stroke-width="1.5"/>
<path d="M578.4 242.6 h2.8 M579.8 241.2 v2.8" stroke="#d80000" stroke-width="1.5"/>
<path d="M581.8 239.7 h4.1 M583.8 237.6 v4.1" stroke="#d80000" stroke-width="1.5"/>
<path d="M569.2 231.8 h3.4 M570.9 230.1 v3.4" stroke="#d80000" stroke-width="1.5"/>
<path d="M587.6 216.4 h2.9 M589 215 v2.9" stroke="#d80000" stroke-width="1.5"/>
<path d="M590.5 220.2 h4.6 M592.8 217.9 v4.6" stroke="#d80000" stroke-width="1.5"/>
<path d="M587.9 235.2 h3.3 M589.5 233.6 v3.3" stroke="#d80000" stroke-width="1.5"/>
<path d="M575 234.2 h4.7 M577.4 231.9 v4.7" stroke="#d80000" stroke-width="1.5"/>
<path d="M589.9 207.5 h3.4 M591.6 205.8 v3.4" stroke="#d80000" stroke-width="1.5"/>
<path d="M576.3 231.6 h3.5 M578 229.9 v3.5" stroke="#d80000" stroke-width="1.5"/>
<path d="M573.2 228.1 h3.8 M575.1 226.2 v3.8" stroke="#d80000" stroke-width="1.5"/>
<path d="M592.6 216 h4.4 M594.8 213.8 v4.4" stroke="#d80000" stroke-width="1.5"/>
<path d="M577.9 220.5 h4.3 M580.1 218.3 v4.3" stroke="#d80000" stroke-width="1.5"/>
<path d="M590.6 208.6 h2.6 M591.9 207.3 v2.6" stroke="#d80000" stroke-width="1.5"/>
<path d="M584.5 228 h3.8 M586.4 226.1 v3.8" stroke="#d80000" stroke-width="1.5"/>
<path d="M600.1 210.6 h4.4 M602.3 208.4 v4.4" stroke="#d80000" stroke-width="1.5"/>
<path d="M570.6 247.1 h4.3 M572.8 245 v4.3" stroke="#d80000" stroke-width="1.5"/>
<path d="M599.2 224 h2.8 M600.6 222.6 v2.8" stroke="#d80000" stroke-width="1.5"/>
<path d="M579.4 216.9 h4.2 M581.5 214.8 v4.2" stroke="#d80000" stroke-width="1.5"/>
<path d="M582.6 217.8 h3.1 M584.1 216.3 v3.1" stroke="#d80000" stroke-width="1.5"/>
<path d="M591.3 217.1 h4.3 M593.5 215 v4.3" stroke="#d80000" stroke-width="1.5"/>
<path d="M576 230 h4.7 M578.4 227.6 v4.7" stroke="#d80000" stroke-width="1.5"/>
<path d="M588.2 220.6 h3.8 M590.1 218.7 v3.8" stroke="#d80000" stroke-width="1.5"/>
<path d="M593.8 221.8 h4.6 M596.1 219.5 v4.6" stroke="#d80000" stroke-width="1.5"/>
<path d="M587.2 236.7 h4.1 M589.2 234.7 v4.1" stroke="#d80000" stroke-width="1.5"/>
<path d="M599.9 217.7 h4.4 M602.2 215.5 v4.4" stroke="#d80000" stroke-width="1.5"/>
<path d="M587.7 222.4 h4.2 M589.7 220.3 v4.2" stroke="#d80000" stroke-width="1.5"/>
<path d="M590.7 214 h3.5 M592.5 212.3 v3.5" stroke="#d80000" stroke-width="1.5"/>
<path d="M577 246.6 h4.8 M579.4 244.2 v4.8" stroke="#d80000" stroke-width="1.5"/>
<path d="M572.7 228.2 h3 M574.2 226.7 v3" stroke="#d80000" stroke-width="1.5"/>
<path d="M576 228 h4.7 M578.3 225.7 v4.7" stroke="#d80000" stroke-width="1.5"/>
<path d="M566.2 243.7 h2.9 M567.6 242.3 v2.9" stroke="#d80000" stroke-width="1.5"/>
<path d="M593.8 225.9 h3 M595.3 224.4 v3" stroke="#d80000" stroke-width="1.5"/>
<path d="M568.9 245.9 h3.9 M570.9 243.9 v3.9" stroke="#d80000" stroke-width="1.5"/>
<path d="M568.8 236 h4.2 M570.9 233.9 v4.2" stroke="#d80000" stroke-width="1.5"/>
<path d="M580.5 219.8 h3 M582 218.3 v3" stroke="#d80000" stroke-width="1.5"/>
<path d="M569.3 232.3 h4.3 M571.5 230.2 v4.3" stroke="#d80000" stroke-width="1.5"/>
<path d="M578.1 236.7 h4.4 M580.3 234.5 v4.4" stroke="#d80000" stroke-width="1.5"/>
<path d="M577 225.2 h4.6 M579.3 223 v4.6" stroke="#d80000" stroke-width="1.5"/>
<path d="M592.3 208.1 h3.8 M594.2 206.2 v3.8" stroke="#d80000" stroke-width="1.5"/>
<path d="M596.9 208.4 h3.1 M598.5 206.9 v3.1" stroke="#d80000" stroke-width="1.5"/>
<path d="M589.8 213.5 h3.8 M591.7 211.6 v3.8" stroke="#d80000" stroke-width="1.5"/>
<path d="M578.3 223.9 h4.8 M580.7 221.5 v4.8" stroke="#d80000" stroke-width="1.5"/>
<path d="M582.9 217.4 h2.6 M584.2 216.1 v2.6" stroke="#d80000" stroke-width="1.5"/>
<path d="M579.3 227.2 h4.4 M581.5 225 v4.4" stroke="#d80000" stroke-width="1.5"/>
<path d="M592.2 220.6 h2.9 M593.7 219.1 v2.9" stroke="#d80000" stroke-width="1.5"/>
<path d="M569.3 239.8 h3.2 M570.9 238.2 v3.2" stroke="#d80000" stroke-width="1.5"/>
<path d="M594.5 212.6 h4 M596.5 210.6 v4" stroke="#d80000" stroke-width="1.5"/>
<path d="M576.5 221.3 h4.3 M578.7 219.1 v4.3" stroke="#d80000" stroke-width="1.5"/>
<path d="M600.9 218.2 h2.8 M602.3 216.8 v2.8" stroke="#d80000" stroke-width="1.5"/>
<path d="M581.2 241 h2.8 M582.6 239.6 v2.8" stroke="#d80000" stroke-width="1.5"/>
<path d="M581.4 228.4 h4.7 M583.7 226 v4.7" stroke="#d80000" stroke-width="1.5"/>
<path d="M593.5 229.7 h3.3 M595.2 228.1 v3.3" stroke="#d80000" stroke-width="1.5"/>
<path d="M589.7 214.5 h4.6 M592 212.2 v4.6" stroke="#d80000" stroke-width="1.5"/>
<path d="M575.2 241 h3.8 M577.1 239.1 v3.8" stroke="#d80000" stroke-width="1.5"/>
<path d="M580 247.5 h3.3 M581.7 245.9 v3.3" stroke="#d80000" stroke-width="1.5"/>
<path d="M568.7 229.6 h3.3 M570.3 228 v3.3" stroke="#d80000" stroke-width="1.5"/>
<path d="M586.9 232.6 h3.4 M588.6 230.9 v3.4" stroke="#d80000" stroke-width="1.5"/>
<path d="M580.6 214.1 h3.5 M582.3 212.4 v3.5" stroke="#d80000" stroke-width="1.5"/>
<path d="M591.5 236.7 h4.4 M593.7 234.5 v4.4" stroke="#d80000" stroke-width="1.5"/>
<path d="M584.2 236.4 h3.1 M585.7 234.8 v3.1" stroke="#d80000" stroke-width="1.5"/>
<path d="M584.7 224.7 h2.6 M586.1 223.3 v2.6" stroke="#d80000" stroke-width="1.5"/>
<path d="M577 242.2 h3.2 M578.6 240.5 v3.2" stroke="#d80000" stroke-width="1.5"/>
<path d="M580.5 233.8 h3.3 M582.1 232.2 v3.3" stroke="#d80000" stroke-width="1.5"/>
<path d="M575.8 233.2 h4.1 M577.8 231.2 v4.1" stroke="#d80000" stroke-width="1.5"/>
<path d="M569.2 233.8 h4.2 M571.3 231.7 v4.2" stroke="#d80000" stroke-width="1.5"/>
<path d="M587.3 241.9 h3.8 M589.3 240 v3.8" stroke="#d80000" stroke-width="1.5"/>
<path d="M586 216 h4.4 M588.2 213.8 v4.4" stroke="#d80000" stroke-width="1.5"/>
<path d="M574.4 247.8 h4.2 M576.5 245.8 v4.2" stroke="#d80000" stroke-width="1.5"/>
<path d="M571 240.1 h4.4 M573.3 237.8 v4.4" stroke="#d80000" stroke-width="1.5"/>
<path d="M577.6 217.9 h3.1 M579.1 216.3 v3.1" stroke="#d80000" stroke-width="1.5"/>
<path d="M570.8 225.5 h4.6 M573.1 223.2 v4.6" stroke="#d80000" stroke-width="1.5"/>
<path d="M581 231.3 h4 M583 229.3 v4" stroke="#d80000" stroke-width="1.5"/>
<path d="M598.1 221.6 h3.4 M599.9 219.8 v3.4" stroke="#d80000" stroke-width="1.5"/>
<path d="M576.7 233.8 h2.6 M578 232.5 v2.6" stroke="#d80000" stroke-width="1.5"/>
<path d="M583.8 235.2 h4.8 M586.2 232.8 v4.8" stroke="#d80000" stroke-width="1.5"/>
<path d="M595.2 218.2 h3.9 M597.2 216.2 v3.9" stroke="#d80000" stroke-width="1.5"/>
<path d="M582 237 h2.8 M583.4 235.5 v2.8" stroke="#d80000" stroke-width="1.5"/>
<path d="M579.3 233.3 h4.3 M581.5 231.2 v4.3" stroke="#d80000" stroke-width="1.5"/>
<path d="M595.7 215.9 h2.9 M597.2 214.5 v2.9" stroke="#d80000" stroke-width="1.5"/>
<path d="M599.7 222.8 h3.8 M601.6 220.9 v3.8" stroke="#d80000" stroke-width="1.5"/>
<path d="M579.1 234.2 h2.9 M580.5 232.8 v2.9" stroke="#d80000" stroke-width="1.5"/>
<path d="M587.8 230.6 h4.4 M590 228.4 v4.4" stroke="#d80000" stroke-width="1.5"/>
<path d="M581.1 218.1 h2.8 M582.5 216.7 v2.8" stroke="#d80000" stroke-width="1.5"/>
<path d="M576.8 240 h4.1 M578.9 237.9 v4.1" stroke="#d80000" stroke-width="1.5"/>
<path d="M587.2 241.7 h3.4 M588.9 240 v3.4" stroke="#d80000" stroke-width="1.5"/>
<path d="M573.6 223.9 h4.7 M575.9 221.5 v4.7" stroke="#d80000" stroke-width="1.5"/>
<path d="M585.7 227.1 h3.8 M587.6 225.2 v3.8" stroke="#d80000" stroke-width="1.5"/>
<path d="M584.1 244.2 h4.8 M586.5 241.8 v4.8" stroke="#d80000" stroke-width="1.5"/>
<path d="M595.3 216.1 h2.9 M596.8 214.7 v2.9" stroke="#d80000" stroke-width="1.5"/>
<path d="M588.1 211.1 h4.6 M590.3 208.8 v4.6" stroke="#d80000" stroke-width="1.5"/>
<path d="M576.5 240.1 h4.4 M578.7 237.9 v4.4" stroke="#d80000" stroke-width="1.5"/>
<path d="M575.1 242 h2.8 M576.5 240.6 v2.8" stroke="#d80000" stroke-width="1.5"/>
<path d="M583.7 218.4 h4.1 M585.7 216.4 v4.1" stroke="#d80000" stroke-width="1.5"/>
<path d="M587.7 216.2 h3.9 M589.7 214.2 v3.9" stroke="#d80000" stroke-width="1.5"/>
<path d="M573.8 240.2 h2.9 M575.2 238.8 v2.9" stroke="#d80000" stroke-width="1.5"/>
<path d="M581.5 233.9 h3 M583 232.4 v3" stroke="#d80000" stroke-width="1.5"/>
<path d="M578.7 223.6 h3.8 M580.6 221.7 v3.8" stroke="#d80000" stroke-width="1.5"/>
<path d="M581.6 237.2 h2.7 M582.9 235.9 v2.7" stroke="#d80000" stroke-width="1.5"/>
<path d="M580.3 215.4 h4.7 M582.7 213 v4.7" stroke="#d80000" stroke-width="1.5"/>
<path d="M585.6 223.3 h3.5 M587.4 221.6 v3.5" stroke="#d80000" stroke-width="1.5"/>
<path d="M590.6 225.6 h4.3 M592.7 223.5 v4.3" stroke="#d80000" stroke-width="1.5"/>
<path d="M589.9 217.1 h4.8 M592.3 214.7 v4.8" stroke="#d80000" stroke-width="1.5"/>
<path d="M601 219.1 h3.5 M602.7 217.3 v3.5" stroke="#d80000" stroke-width="1.5"/>
<path d="M582.1 231.8 h4.6 M584.4 229.5 v4.6" stroke="#d80000" stroke-width="1.5"/>
<path d="M584.5 227.3 h3.6 M586.3 225.5 v3.6" stroke="#d80000" stroke-width="1.5"/>
<path d="M592.1 208.2 h2.7 M593.4 206.8 v2.7" stroke="#d80000" stroke-width="1.5"/>
<path d="M598.2 224.5 h4.2 M600.3 222.4 v4.2" stroke="#d80000" stroke-width="1.5"/>
<path d="M591.6 227.7 h3.3 M593.3 226 v3.3" stroke="#d80000" stroke-width="1.5"/>
<path d="M577.3 217.5 h2.9 M578.7 216.1 v2.9" stroke="#d80000" stroke-width="1.5"/>
<path d="M603.6 210.4 L603.9 211.3 L602.9 212.3 L600.7 212.9 L601.7 214.3 L599.5 214.9 L597.4 214.9 L595.8 215.4 L594 215.7 L592.7 215.3 L592 214.7 L587.7 215.9 L586.4 215.1 L587.3 213.8 L586.4 212.8 L589 211.7 L588.4 210.6 L591.8 210.3 L592 208.7 L594.2 208.4 L596.3 207.3 L597.6 209 L600.6 207.4 L600.2 209.2 L602.8 208.8 L605.5 208.9 Z" fill="#d80000"/>
<path d="M589.1 211 h2.7 M590.5 209.6 v2.7" stroke="#d80000" stroke-width="1.5"/>
<path d="M591.1 210.8 h3.9 M593 208.9 v3.9" stroke="#d80000" stroke-width="1.5"/>
<path d="M603.8 207.7 h3.7 M605.7 205.8 v3.7" stroke="#d80000" stroke-width="1.5"/>
<path d="M593 208.7 h3.2 M594.6 207.1 v3.2" stroke="#d80000" stroke-width="1.5"/>
<path d="M587.4 217.5 h3.4 M589 215.9 v3.4" stroke="#d80000" stroke-width="1.5"/>
<path d="M592.2 208.3 h4.5 M594.5 206 v4.5" stroke="#d80000" stroke-width="1.5"/>
<path d="M596.4 207.7 h4.5 M598.6 205.4 v4.5" stroke="#d80000" stroke-width="1.5"/>
<path d="M599 208.6 h4.6 M601.3 206.3 v4.6" stroke="#d80000" stroke-width="1.5"/>
<path d="M604.5 212.6 h2.9 M605.9 211.1 v2.9" stroke="#d80000" stroke-width="1.5"/>
<path d="M600.2 216.1 h3.6 M602 214.3 v3.6" stroke="#d80000" stroke-width="1.5"/>
<path d="M590.1 215.5 h3 M591.6 214 v3" stroke="#d80000" stroke-width="1.5"/>
<path d="M585.2 210.5 h4.1 M587.2 208.5 v4.1" stroke="#d80000" stroke-width="1.5"/>
<path d="M601.1 209 h4.1 M603.1 207 v4.1" stroke="#d80000" stroke-width="1.5"/>
<path d="M604.5 211.1 h3.1 M606 209.5 v3.1" stroke="#d80000" stroke-width="1.5"/>
<path d="M589.9 218 h4.1 M591.9 216 v4.1" stroke="#d80000" stroke-width="1.5"/>
<path d="M589.2 214.8 h2.8 M590.6 213.4 v2.8" stroke="#d80000" stroke-width="1.5"/>
<path d="M606.3 208.8 h3.8 M608.2 206.9 v3.8" stroke="#d80000" stroke-width="1.5"/>
<path d="M593.7 206.5 h3.9 M595.7 204.5 v3.9" stroke="#d80000" stroke-width="1.5"/>
<path d="M587.7 210.2 h4.4 M589.9 208 v4.4" stroke="#d80000" stroke-width="1.5"/>
<path d="M582.8 211.6 h4.3 M585 209.5 v4.3" stroke="#d80000" stroke-width="1.5"/>
<path d="M587.1 210.7 h3.8 M589 208.8 v3.8" stroke="#d80000" stroke-width="1.5"/>
<path d="M593.9 215.1 h3.4 M595.6 213.4 v3.4" stroke="#d80000" stroke-width="1.5"/>
<path d="M605.4 209.8 h3 M606.9 208.3 v3" stroke="#d80000" stroke-width="1.5"/>
<path d="M596.1 213.4 h3.4 M597.8 211.7 v3.4" stroke="#d80000" stroke-width="1.5"/>
<path d="M598.8 214.5 h3.7 M600.7 212.6 v3.7" stroke="#d80000" stroke-width="1.5"/>
<path d="M594.9 216 h4.1 M597 214 v4.1" stroke="#d80000" stroke-width="1.5"/>
<path d="M596.1 217.2 h3 M597.6 215.7 v3" stroke="#d80000" stroke-width="1.5"/>
<path d="M600.4 206.6 h3.9 M602.3 204.6 v3.9" stroke="#d80000" stroke-width="1.5"/>
<path d="M587 212.7 h4.3 M589.1 210.5 v4.3" stroke="#d80000" stroke-width="1.5"/>
<path d="M602.4 213.9 h3.1 M604 212.4 v3.1" stroke="#d80000" stroke-width="1.5"/>
<path d="M593.1 208.8 h3.9 M595.1 206.8 v3.9" stroke="#d80000" stroke-width="1.5"/>
<path d="M592.9 206.5 h3.9 M594.9 204.6 v3.9" stroke="#d80000" stroke-width="1.5"/>
<path d="M599.4 211.7 h4.5 M601.6 209.5 v4.5" stroke="#d80000" stroke-width="1.5"/>
<path d="M585.7 209.6 h2.6 M587 208.2 v2.6" stroke="#d80000" stroke-width="1.5"/>
<path d="M594 211.3 h3.6 M595.7 209.5 v3.6" stroke="#d80000" stroke-width="1.5"/>
<path d="M589.3 216.7 h2.8 M590.7 215.4 v2.8" stroke="#d80000" stroke-width="1.5"/>
<path d="M604.6 210.7 h3.8 M606.5 208.8 v3.8" stroke="#d80000" stroke-width="1.5"/>
<path d="M601.3 207.4 h2.9 M602.8 206 v2.9" stroke="#d80000" stroke-width="1.5"/>
<path d="M588.4 207.6 h3.3 M590.1 205.9 v3.3" stroke="#d80000" stroke-width="1.5"/>
<path d="M597.6 211.7 h3.2 M599.1 210.1 v3.2" stroke="#d80000" stroke-width="1.5"/>
<path d="M595.1 206.7 h4.4 M597.3 204.5 v4.4" stroke="#d80000" stroke-width="1.5"/>
<path d="M585.6 210.8 h3 M587 209.3 v3" stroke="#d80000" stroke-width="1.5"/>
<path d="M731.3 176 L732.6 177 L732.3 179 L727.6 181.8 L728.4 183.2 L726.7 184.9 L724.5 186.2 L723.6 189.8 L720.8 187.7 L718.4 190.3 L715.4 192 L712.4 193 L714.6 188.7 L712 189.1 L709.9 188.8 L714 185.5 L713.4 184.4 L711.3 182.7 L716.1 181.4 L717 179.4 L719.2 178.3 L721.3 176.8 L723 177.5 L724.5 177.4 L729.7 173 L730.5 174.6 Z" fill="#d80000"/>
<path d="M723.6 174.2 h3.2 M725.2 172.7 v3.2" stroke="#d80000" stroke-width="1.5"/>
<path d="M718.1 178.1 h3.6 M719.9 176.3 v3.6" stroke="#d80000" stroke-width="1.5"/>
<path d="M730.8 172.2 h3.3 M732.5 170.5 v3.3" stroke="#d80000" stroke-width="1.5"/>
<path d="M735.1 174.9 h2.7 M736.4 173.5 v2.7" stroke="#d80000" stroke-width="1.5"/>
<path d="M718.3 187.2 h2.7 M719.6 185.8 v2.7" stroke="#d80000" stroke-width="1.5"/>
<path d="M716.1 189.1 h4.5 M718.3 186.8 v4.5" stroke="#d80000" stroke-width="1.5"/>
<path d="M725.8 186.9 h3.6 M727.6 185.1 v3.6" stroke="#d80000" stroke-width="1.5"/>
<path d="M719.6 190.3 h3.4 M721.3 188.6 v3.4" stroke="#d80000" stroke-width="1.5"/>
<path d="M724.8 173.1 h3.4 M726.5 171.4 v3.4" stroke="#d80000" stroke-width="1.5"/>
<path d="M710.6 190.2 h3 M712.1 188.7 v3" stroke="#d80000" stroke-width="1.5"/>
<path d="M707.5 184.8 h3.6 M709.3 183 v3.6" stroke="#d80000" stroke-width="1.5"/>
<path d="M712.4 186.1 h4.8 M714.8 183.7 v4.8" stroke="#d80000" stroke-width="1.5"/>
<path d="M728.5 184.7 h3.1 M730 183.2 v3.1" stroke="#d80000" stroke-width="1.5"/>
<path d="M711.1 179 h4.1 M713.2 177 v4.1" stroke="#d80000" stroke-width="1.5"/>
<path d="M713.3 182.4 h2.6 M714.6 181.1 v2.6" stroke="#d80000" stroke-width="1.5"/>
<path d="M707.4 185.9 h3.5 M709.1 184.2 v3.5" stroke="#d80000" stroke-width="1.5"/>
<path d="M734.2 177.6 h3.2 M735.8 176 v3.2" stroke="#d80000" stroke-width="1.5"/>
<path d="M711 180.7 h4.7 M713.4 178.3 v4.7" stroke="#d80000" stroke-width="1.5"/>
<path d="M717.4 189.8 h4.2 M719.5 187.7 v4.2" stroke="#d80000" stroke-width="1.5"/>
<path d="M713.1 184.9 h2.8 M714.5 183.5 v2.8" stroke="#d80000" stroke-width="1.5"/>
<path d="M728.4 172.6 h4.3 M730.6 170.5 v4.3" stroke="#d80000" stroke-width="1.5"/>
<path d="M715.3 176 h3.5 M717 174.3 v3.5" stroke="#d80000" stroke-width="1.5"/>
<path d="M710.3 191.5 h2.7 M711.6 190.2 v2.7" stroke="#d80000" stroke-width="1.5"/>
<path d="M712.8 185.7 h3.8 M714.7 183.8 v3.8" stroke="#d80000" stroke-width="1.5"/>
<path d="M710.7 193.5 h3.2 M712.3 191.9 v3.2" stroke="#d80000" stroke-width="1.5"/>
<path d="M727.9 180.9 h2.9 M729.4 179.4 v2.9" stroke="#d80000" stroke-width="1.5"/>
<path d="M707.9 185.7 h4.2 M710 183.7 v4.2" stroke="#d80000" stroke-width="1.5"/>
<path d="M714.8 183.2 h4.5 M717 181 v4.5" stroke="#d80000" stroke-width="1.5"/>
<path d="M709.1 185.5 h3.4 M710.7 183.8 v3.4" stroke="#d80000" stroke-width="1.5"/>
<path d="M706.3 194.6 h3.8 M708.2 192.7 v3.8" stroke="#d80000" stroke-width="1.5"/>
<path d="M714.4 189.6 h4.6 M716.7 187.3 v4.6" stroke="#d80000" stroke-width="1.5"/>
<path d="M712.5 191.6 h4.1 M714.5 189.5 v4.1" stroke="#d80000" stroke-width="1.5"/>
<path d="M713.1 190.4 h2.8 M714.5 189 v2.8" stroke="#d80000" stroke-width="1.5"/>
<path d="M716.4 182.9 h2.7 M717.8 181.5 v2.7" stroke="#d80000" stroke-width="1.5"/>
<path d="M713.9 182.8 h3.7 M715.8 181 v3.7" stroke="#d80000" stroke-width="1.5"/>
<path d="M709.2 182.4 h3.5 M711 180.7 v3.5" stroke="#d80000" stroke-width="1.5"/>
<path d="M714.8 178.6 h4.1 M716.9 176.5 v4.1" stroke="#d80000" stroke-width="1.5"/>
<path d="M707.5 182.2 h3.4 M709.1 180.6 v3.4" stroke="#d80000" stroke-width="1.5"/>
<path d="M713.2 179.4 h3.9 M715.1 177.5 v3.9" stroke="#d80000" stroke-width="1.5"/>
<path d="M725.5 179.7 h4.1 M727.5 177.6 v4.1" stroke="#d80000" stroke-width="1.5"/>
<path d="M704 191.1 h3.4 M705.7 189.4 v3.4" stroke="#d80000" stroke-width="1.5"/>
<path d="M705.7 190.5 h2.7 M707 189.1 v2.7" stroke="#d80000" stroke-width="1.5"/>
<path d="M719.9 184.4 h3.6 M721.7 182.6 v3.6" stroke="#d80000" stroke-width="1.5"/>
<path d="M712 182.9 h2.7 M713.3 181.6 v2.7" stroke="#d80000" stroke-width="1.5"/>
<path d="M718.5 191.9 h3.8 M720.4 190 v3.8" stroke="#d80000" stroke-width="1.5"/>
<path d="M714.1 190.3 h3 M715.6 188.8 v3" stroke="#d80000" stroke-width="1.5"/>
<path d="M718.9 185.3 h4.7 M721.3 183 v4.7" stroke="#d80000" stroke-width="1.5"/>
<path d="M715.4 186.9 h4.7 M717.7 184.6 v4.7" stroke="#d80000" stroke-width="1.5"/>
<path d="M728.4 179.4 h4 M730.4 177.4 v4" stroke="#d80000" stroke-width="1.5"/>
<path d="M715.9 183.6 h3.2 M717.5 182 v3.2" stroke="#d80000" stroke-width="1.5"/>
<path d="M720.3 191.5 h2.7 M721.7 190.1 v2.7" stroke="#d80000" stroke-width="1.5"/>
<path d="M708.6 190.5 h3.3 M710.3 188.9 v3.3" stroke="#d80000" stroke-width="1.5"/>
<path d="M720.2 192.9 h2.9 M721.7 191.5 v2.9" stroke="#d80000" stroke-width="1.5"/>
<path d="M707.1 185.2 h4.1 M709.1 183.2 v4.1" stroke="#d80000" stroke-width="1.5"/>
<path d="M719.7 180.5 h3.1 M721.2 179 v3.1" stroke="#d80000" stroke-width="1.5"/>
<path d="M720.4 185.4 h3.8 M722.3 183.5 v3.8" stroke="#d80000" stroke-width="1.5"/>
<path d="M723.1 181.4 h4.4 M725.3 179.2 v4.4" stroke="#d80000" stroke-width="1.5"/>
<path d="M731.6 171 h3.4 M733.2 169.3 v3.4" stroke="#d80000" stroke-width="1.5"/>
<path d="M728.5 172.4 h4.2 M730.6 170.3 v4.2" stroke="#d80000" stroke-width="1.5"/>
<path d="M726.3 181.8 h4.7 M728.7 179.4 v4.7" stroke="#d80000" stroke-width="1.5"/>
<path d="M725.2 171.3 h4 M727.2 169.4 v4" stroke="#d80000" stroke-width="1.5"/>
<path d="M719.7 184.1 h3.4 M721.4 182.4 v3.4" stroke="#d80000" stroke-width="1.5"/>
<path d="M715.3 191.1 h3.8 M717.2 189.2 v3.8" stroke="#d80000" stroke-width="1.5"/>
<path d="M709 184.6 h3.3 M710.6 183 v3.3" stroke="#d80000" stroke-width="1.5"/>
<path d="M710.1 189.8 h2.9 M711.6 188.3 v2.9" stroke="#d80000" stroke-width="1.5"/>
<path d="M709.8 194.1 h2.8 M711.3 192.7 v2.8" stroke="#d80000" stroke-width="1.5"/>
<path d="M720.5 188 h3.7 M722.3 186.2 v3.7" stroke="#d80000" stroke-width="1.5"/>
<path d="M712.4 195.3 h4.5 M714.7 193 v4.5" stroke="#d80000" stroke-width="1.5"/>
<path d="M722.5 187.3 h3.5 M724.2 185.5 v3.5" stroke="#d80000" stroke-width="1.5"/>
<path d="M722.8 174.9 h4.2 M724.9 172.8 v4.2" stroke="#d80000" stroke-width="1.5"/>
<path d="M712 184.1 h4.3 M714.2 181.9 v4.3" stroke="#d80000" stroke-width="1.5"/>
<path d="M732.6 180.9 h3.8 M734.5 179 v3.8" stroke="#d80000" stroke-width="1.5"/>
<path d="M718.8 187.7 h4 M720.7 185.7 v4" stroke="#d80000" stroke-width="1.5"/>
<path d="M732.5 180.7 h2.9 M733.9 179.3 v2.9" stroke="#d80000" stroke-width="1.5"/>
<path d="M717.5 188 h3.1 M719.1 186.5 v3.1" stroke="#d80000" stroke-width="1.5"/>
<path d="M725.7 187.8 h4.7 M728 185.4 v4.7" stroke="#d80000" stroke-width="1.5"/>
<path d="M710.3 193.2 h3.5 M712 191.5 v3.5" stroke="#d80000" stroke-width="1.5"/>
<path d="M721.5 178.8 h4.7 M723.9 176.5 v4.7" stroke="#d80000" stroke-width="1.5"/>
<path d="M722.1 173 h2.7 M723.5 171.6 v2.7" stroke="#d80000" stroke-width="1.5"/>
<path d="M714.6 190.8 h4.8 M717 188.4 v4.8" stroke="#d80000" stroke-width="1.5"/>
<path d="M706.7 188.2 h2.7 M708 186.9 v2.7" stroke="#d80000" stroke-width="1.5"/>
<path d="M720.4 181.9 h3.4 M722.1 180.2 v3.4" stroke="#d80000" stroke-width="1.5"/>
<path d="M716.2 191.3 h4.4 M718.4 189.1 v4.4" stroke="#d80000" stroke-width="1.5"/>
<path d="M711.5 185.8 h4 M713.5 183.8 v4" stroke="#d80000" stroke-width="1.5"/>
<path d="M717.8 188.1 h3.8 M719.7 186.2 v3.8" stroke="#d80000" stroke-width="1.5"/>
<path d="M724.8 171.7 h3 M726.3 170.2 v3" stroke="#d80000" stroke-width="1.5"/>
<path d="M712.1 187.9 h2.9 M713.5 186.4 v2.9" stroke="#d80000" stroke-width="1.5"/>
<path d="M717.3 176.4 h4 M719.3 174.4 v4" stroke="#d80000" stroke-width="1.5"/>
<path d="M709.7 183.5 h3.7 M711.5 181.7 v3.7" stroke="#d80000" stroke-width="1.5"/>
<path d="M749.3 163.8 L749 164.6 L748.1 165.4 L747.7 166.1 L749.2 167.2 L746.8 167.6 L745.4 167.9 L744.4 168.5 L743.1 169.5 L741.1 170.8 L741.1 169 L738.5 170.2 L738.8 169 L738.6 168.3 L737.1 168 L738.7 166.8 L740.3 165.9 L739.6 165 L740.5 164 L742 163.3 L743.6 163.3 L745.1 161.5 L746.7 161.5 L748.5 161.2 L748.3 162.7 L750.3 162.4 Z" fill="#d80000"/>
<path d="M745.6 161.3 h2.7 M746.9 159.9 v2.7" stroke="#d80000" stroke-width="1.5"/>
<path d="M733.5 168 h4.3 M735.6 165.9 v4.3" stroke="#d80000" stroke-width="1.5"/>
<path d="M739.2 167.6 h2.6 M740.6 166.3 v2.6" stroke="#d80000" stroke-width="1.5"/>
<path d="M732.9 170.1 h4.4 M735.1 167.9 v4.4" stroke="#d80000" stroke-width="1.5"/>
<path d="M748.6 165.9 h3.5 M750.3 164.2 v3.5" stroke="#d80000" stroke-width="1.5"/>
<path d="M748.7 166.7 h4.3 M750.9 164.5 v4.3" stroke="#d80000" stroke-width="1.5"/>
<path d="M749.8 161.6 h4.2 M751.9 159.5 v4.2" stroke="#d80000" stroke-width="1.5"/>
<path d="M739.7 171.7 h2.7 M741 170.4 v2.7" stroke="#d80000" stroke-width="1.5"/>
<path d="M742.6 162.9 h3.5 M744.4 161.2 v3.5" stroke="#d80000" stroke-width="1.5"/>
<path d="M740 168.5 h4.4 M742.2 166.3 v4.4" stroke="#d80000" stroke-width="1.5"/>
<path d="M740.4 168.3 h3.4 M742 166.6 v3.4" stroke="#d80000" stroke-width="1.5"/>
<path d="M739.9 171.5 h3.3 M741.5 169.8 v3.3" stroke="#d80000" stroke-width="1.5"/>
<path d="M733.8 167.6 h4.2 M735.9 165.5 v4.2" stroke="#d80000" stroke-width="1.5"/>
<path d="M737.7 170.5 h3.8 M739.6 168.6 v3.8" stroke="#d80000" stroke-width="1.5"/>
<path d="M744.6 161.6 h2.8 M746.1 160.2 v2.8" stroke="#d80000" stroke-width="1.5"/>
<path d="M735.1 167.4 h3.5 M736.8 165.6 v3.5" stroke="#d80000" stroke-width="1.5"/>
<path d="M733.2 169.8 h3.5 M735 168.1 v3.5" stroke="#d80000" stroke-width="1.5"/>
<path d="M738.5 167.7 h4.7 M740.9 165.4 v4.7" stroke="#d80000" stroke-width="1.5"/>
<path d="M738.4 171.8 h3.3 M740 170.2 v3.3" stroke="#d80000" stroke-width="1.5"/>
<path d="M744.8 160.4 h4.8 M747.2 158 v4.8" stroke="#d80000" stroke-width="1.5"/>
<path d="M743 170.8 h3.1 M744.5 169.3 v3.1" stroke="#d80000" stroke-width="1.5"/>
<path d="M741.6 168.6 h3 M743.1 167.1 v3" stroke="#d80000" stroke-width="1.5"/>
<path d="M738.2 169.4 h4.7 M740.5 167.1 v4.7" stroke="#d80000" stroke-width="1.5"/>
<path d="M737.8 164.5 h3.4 M739.5 162.8 v3.4" stroke="#d80000" stroke-width="1.5"/>
<path d="M744 163.8 h4 M746 161.8 v4" stroke="#d80000" stroke-width="1.5"/>
<path d="M736.9 169.3 h4.6 M739.2 167 v4.6" stroke="#d80000" stroke-width="1.5"/>
<path d="M749.2 164.4 h3.7 M751.1 162.6 v3.7" stroke="#d80000" stroke-width="1.5"/>
<path d="M602.5 210.4 h3.6 M604.3 208.6 v3.6" stroke="#d80000" stroke-width="1.1"/>
<path d="M605.1 205.4 h3.6 M606.9 203.6 v3.6" stroke="#d80000" stroke-width="1.1"/>
<path d="M608.7 210.4 h3.6 M610.5 208.6 v3.6" stroke="#d80000" stroke-width="1.1"/>
<path d="M609.2 204 h3.6 M611 202.2 v3.6" stroke="#d80000" stroke-width="1.1"/>
<path d="M610.8 203.2 h3.6 M612.6 201.4 v3.6" stroke="#d80000" stroke-width="1.1"/>
<path d="M614.4 202.6 h3.6 M616.2 200.8 v3.6" stroke="#d80000" stroke-width="1.1"/>
<path d="M617.2 203.3 h3.6 M619 201.5 v3.6" stroke="#d80000" stroke-width="1.1"/>
<path d="M622.1 207.2 h3.6 M623.9 205.4 v3.6" stroke="#d80000" stroke-width="1.1"/>
<path d="M627.1 203.3 h3.6 M628.9 201.5 v3.6" stroke="#d80000" stroke-width="1.1"/>
<path d="M630.2 203.5 h3.6 M632 201.7 v3.6" stroke="#d80000" stroke-width="1.1"/>
<path d="M634.6 201.6 h3.6 M636.4 199.8 v3.6" stroke="#d80000" stroke-width="1.1"/>
<path d="M637.6 200.6 h3.6 M639.4 198.8 v3.6" stroke="#d80000" stroke-width="1.1"/>
<path d="M645.1 199 h3.6 M646.9 197.2 v3.6" stroke="#d80000" stroke-width="1.1"/>
<path d="M646.5 202 h3.6 M648.3 200.2 v3.6" stroke="#d80000" stroke-width="1.1"/>
<path d="M650.8 198.7 h3.6 M652.6 196.9 v3.6" stroke="#d80000" stroke-width="1.1"/>
<path d="M651.2 198.6 h3.6 M653 196.8 v3.6" stroke="#d80000" stroke-width="1.1"/>
<path d="M654.3 199.6 h3.6 M656.1 197.8 v3.6" stroke="#d80000" stroke-width="1.1"/>
<path d="M659.2 202 h3.6 M661 200.2 v3.6" stroke="#d80000" stroke-width="1.1"/>
<path d="M661.7 195.9 h3.6 M663.5 194.1 v3.6" stroke="#d80000" stroke-width="1.1"/>
<path d="M661.4 200.3 h3.6 M663.2 198.5 v3.6" stroke="#d80000" stroke-width="1.1"/>
<path d="M668 198.3 h3.6 M669.8 196.5 v3.6" stroke="#d80000" stroke-width="1.1"/>
<path d="M670 194.7 h3.6 M671.8 192.9 v3.6" stroke="#d80000" stroke-width="1.1"/>
<path d="M672.4 200.8 h3.6 M674.2 199 v3.6" stroke="#d80000" stroke-width="1.1"/>
<path d="M677.4 199.9 h3.6 M679.2 198.1 v3.6" stroke="#d80000" stroke-width="1.1"/>
<path d="M681.1 195.1 h3.6 M682.9 193.3 v3.6" stroke="#d80000" stroke-width="1.1"/>
<path d="M680.7 193.9 h3.6 M682.5 192.1 v3.6" stroke="#d80000" stroke-width="1.1"/>
<path d="M685.5 196.9 h3.6 M687.3 195.1 v3.6" stroke="#d80000" stroke-width="1.1"/>
<path d="M690.3 196.4 h3.6 M692.1 194.6 v3.6" stroke="#d80000" stroke-width="1.1"/>
<path d="M692.1 195.9 h3.6 M693.9 194.1 v3.6" stroke="#d80000" stroke-width="1.1"/>
<path d="M694.3 193.5 h3.6 M696.1 191.7 v3.6" stroke="#d80000" stroke-width="1.1"/>
<line x1="684.5" y1="222.4" x2="808" y2="222.4" stroke="#c00000" stroke-width="5"/>
<path d="M820.6 222.4 L805 217.6 L806.5 222.4 L805 227.2 Z" fill="#c00000"/>
<line x1="328.5" y1="235.3" x2="268" y2="235.3" stroke="#000" stroke-width="3.5" stroke-linecap="round"/>
<path d="M258.5 235.3 L271.5 230.2 L270 235.3 L271.5 240.4 Z" fill="#000"/>
<line x1="492.8" y1="0" x2="480.6" y2="569" stroke="#7f9ccc" stroke-width="1" stroke-dasharray="2 2"/>
<line x1="494" y1="12.5" x2="480.2" y2="658.5" stroke="#002060" stroke-width="5" stroke-dasharray="22 18.5 5 17"/>
<rect x="168" y="775.8" width="672" height="352.5" fill="none" stroke="#333" stroke-width="1.5"/>
<line x1="168" y1="775.8" x2="176.3" y2="775.8" stroke="#333" stroke-width="1.4"/>
<line x1="168" y1="834.5" x2="176.3" y2="834.5" stroke="#333" stroke-width="1.4"/>
<line x1="168" y1="893.3" x2="176.3" y2="893.3" stroke="#333" stroke-width="1.4"/>
<line x1="168" y1="952" x2="176.3" y2="952" stroke="#333" stroke-width="1.4"/>
<line x1="168" y1="1010.8" x2="176.3" y2="1010.8" stroke="#333" stroke-width="1.4"/>
<line x1="168" y1="1069.5" x2="176.3" y2="1069.5" stroke="#333" stroke-width="1.4"/>
<line x1="168" y1="1128.3" x2="176.3" y2="1128.3" stroke="#333" stroke-width="1.4"/>
<text x="153" y="789.8" font-size="30" font-family="Liberation Serif, serif" font-weight="normal" fill="#111" text-anchor="end" >0.3</text>
<text x="153" y="847.7" font-size="30" font-family="Liberation Serif, serif" font-weight="normal" fill="#111" text-anchor="end" >0.25</text>
<text x="153" y="905.6" font-size="30" font-family="Liberation Serif, serif" font-weight="normal" fill="#111" text-anchor="end" >0.20</text>
<text x="153" y="963.5" font-size="30" font-family="Liberation Serif, serif" font-weight="normal" fill="#111" text-anchor="end" >0.15</text>
<text x="153" y="1021.4" font-size="30" font-family="Liberation Serif, serif" font-weight="normal" fill="#111" text-anchor="end" >0.10</text>
<text x="153" y="1079.3" font-size="30" font-family="Liberation Serif, serif" font-weight="normal" fill="#111" text-anchor="end" >0.05</text>
<text x="153" y="1137.2" font-size="30" font-family="Liberation Serif, serif" font-weight="normal" fill="#111" text-anchor="end" >0</text>
<line x1="832.5" y1="775.8" x2="840" y2="775.8" stroke="#333" stroke-width="1.4"/>
<line x1="832.5" y1="815" x2="840" y2="815" stroke="#333" stroke-width="1.4"/>
<line x1="832.5" y1="854.1" x2="840" y2="854.1" stroke="#333" stroke-width="1.4"/>
<line x1="832.5" y1="893.3" x2="840" y2="893.3" stroke="#333" stroke-width="1.4"/>
<line x1="832.5" y1="932.5" x2="840" y2="932.5" stroke="#333" stroke-width="1.4"/>
<line x1="832.5" y1="971.6" x2="840" y2="971.6" stroke="#333" stroke-width="1.4"/>
<line x1="832.5" y1="1010.8" x2="840" y2="1010.8" stroke="#333" stroke-width="1.4"/>
<line x1="832.5" y1="1050" x2="840" y2="1050" stroke="#333" stroke-width="1.4"/>
<line x1="832.5" y1="1089.1" x2="840" y2="1089.1" stroke="#333" stroke-width="1.4"/>
<line x1="832.5" y1="1128.3" x2="840" y2="1128.3" stroke="#333" stroke-width="1.4"/>
<text transform="translate(942.5,793.5) scale(1.14,1)" font-size="27" font-family="Liberation Serif, serif" font-weight="bold" fill="#c00000" text-anchor="end">18,000</text>
<text transform="translate(942.5,831.7) scale(1.14,1)" font-size="27" font-family="Liberation Serif, serif" font-weight="bold" fill="#c00000" text-anchor="end">16,000</text>
<text transform="translate(942.5,869.9) scale(1.14,1)" font-size="27" font-family="Liberation Serif, serif" font-weight="bold" fill="#c00000" text-anchor="end">14,000</text>
<text transform="translate(942.5,908.1) scale(1.14,1)" font-size="27" font-family="Liberation Serif, serif" font-weight="bold" fill="#c00000" text-anchor="end">12,000</text>
<text transform="translate(942.5,946.3) scale(1.14,1)" font-size="27" font-family="Liberation Serif, serif" font-weight="bold" fill="#c00000" text-anchor="end">10,000</text>
<text transform="translate(942.5,984.5) scale(1.14,1)" font-size="27" font-family="Liberation Serif, serif" font-weight="bold" fill="#c00000" text-anchor="end">8,000</text>
<text transform="translate(942.5,1022.6) scale(1.14,1)" font-size="27" font-family="Liberation Serif, serif" font-weight="bold" fill="#c00000" text-anchor="end">6,000</text>
<text transform="translate(942.5,1060.8) scale(1.14,1)" font-size="27" font-family="Liberation Serif, serif" font-weight="bold" fill="#c00000" text-anchor="end">4,000</text>
<text transform="translate(942.5,1099) scale(1.14,1)" font-size="27" font-family="Liberation Serif, serif" font-weight="bold" fill="#c00000" text-anchor="end">2,000</text>
<text transform="translate(942.5,1137.2) scale(1.14,1)" font-size="27" font-family="Liberation Serif, serif" font-weight="bold" fill="#c00000" text-anchor="end">0</text>
<line x1="168" y1="1120.3" x2="168" y2="1128.3" stroke="#333" stroke-width="1.4"/>
<line x1="302.4" y1="1120.3" x2="302.4" y2="1128.3" stroke="#333" stroke-width="1.4"/>
<line x1="436.8" y1="1120.3" x2="436.8" y2="1128.3" stroke="#333" stroke-width="1.4"/>
<line x1="571.2" y1="1120.3" x2="571.2" y2="1128.3" stroke="#333" stroke-width="1.4"/>
<line x1="705.6" y1="1120.3" x2="705.6" y2="1128.3" stroke="#333" stroke-width="1.4"/>
<line x1="840" y1="1120.3" x2="840" y2="1128.3" stroke="#333" stroke-width="1.4"/>
<clipPath id="cb"><rect x="0" y="1130" width="857" height="60"/></clipPath>
<g clip-path="url(#cb)">
<text x="168" y="1166" font-size="24.5" font-family="Liberation Sans, sans-serif" font-weight="normal" fill="#111" text-anchor="middle" >0</text>
<text x="302.4" y="1166" font-size="24.5" font-family="Liberation Sans, sans-serif" font-weight="normal" fill="#111" text-anchor="middle" >100</text>
<text x="436.8" y="1166" font-size="24.5" font-family="Liberation Sans, sans-serif" font-weight="normal" fill="#111" text-anchor="middle" >200</text>
<text x="571.2" y="1166" font-size="24.5" font-family="Liberation Sans, sans-serif" font-weight="normal" fill="#111" text-anchor="middle" >300</text>
<text x="705.6" y="1166" font-size="24.5" font-family="Liberation Sans, sans-serif" font-weight="normal" fill="#111" text-anchor="middle" >400</text>
<text x="840" y="1166" font-size="24.5" font-family="Liberation Sans, sans-serif" font-weight="normal" fill="#111" text-anchor="middle" >500</text>
</g>
<text transform="translate(70.5,973) rotate(-90)" font-size="24" font-family="Liberation Sans, sans-serif" font-weight="bold" text-anchor="middle" fill="#111">Strain (%)</text>
<text transform="translate(981,958.4) rotate(-90)" font-size="25.2" font-family="Liberation Sans, sans-serif" font-weight="bold" text-anchor="middle" fill="#111">Number of AE events</text>
<text x="457.5" y="1223" font-size="24.5" font-family="Liberation Sans, sans-serif" font-weight="bold" fill="#111" text-anchor="start" >Time&#160;&#160;(h)</text>
<text x="516.5" y="1275" font-size="47" font-family="Liberation Serif, serif" font-weight="normal" fill="#111" text-anchor="middle" >(<tspan font-weight="bold">b</tspan>)</text>
<path d="M170 951.5 L172.8 944.4 L176 943.1 L179 936.5 L181.5 936.6 L184.2 930.1 L186.2 932.3 L188.3 929.8 L190.9 933.2 L193 934.2 L196.1 940 L198.1 938 L200.1 941.2 L202.1 932.5 L205.1 925.9 L207.2 920.7 L210.2 923.1 L213.4 921.3 L216.1 923.7 L219.3 921.8 L222.4 926.1 L224.6 923.5 L226.7 925.6 L228.5 924.8 L231.2 926.9 L233.9 925.5 L236.2 927.5 L238.6 923 L241.1 923.5 L243 918.1 L244.8 920.5 L247.8 916.5 L250.7 917 L253.3 916.8 L255.2 919.4 L258.3 921.8 L261.2 927.4 L264.3 925.2 L266.6 926.6 L269.5 922.9 L272.3 923.3 L275.3 919.7 L278.5 920.4 L280.7 918.8 L283.8 921.9 L286.9 920.2 L289.2 922.5 L291.2 920.6 L293.2 921.5 L296.4 916.5 L298.3 918.3 L300.8 916.5 L303 922.8 L305.9 921.2 L308.3 920.9 L311.4 916.8 L313.9 916.3 L315.9 910.7 L319 911.8 L321.9 910 L324.3 912.4 L327.3 913.2 L329.7 917.8 L332.7 915 L335.2 919.6 L338 918.3 L340.2 921 L342.2 918.6 L345.4 919.8 L348 914.4 L350.3 914.9 L352.5 912.9 L355.5 918.7 L358.4 920.2 L361.2 926.3 L364.1 924.1 L366.8 924.5 L369.3 920 L372.1 920.2 L375.2 915.2 L377.8 915.4 L380.4 913.6 L383.1 916 L386.1 914.7 L389 918.8 L391.7 916.8 L394.6 918.6 L397.6 913.2 L400.4 914.2 L403.5 907.5 L406.1 908 L409 905.3 L411.5 910 L414.3 908.3 L416.4 913.2 L419 912.6 L421.4 918.1 L424.2 916.9 L427.1 919.1 L429.1 917.4 L431.8 918.7 L434.6 915.9 L436.4 918.4 L438.5 917.1 L440.5 919.2 L442.6 918.2 L444.4 919.9 L446.7 915.6 L449.4 914.6 L452.4 909.8 L454.8 909 L457.2 907.4 L460.1 911.2 L462 910.7 L463.9 915.2 L466.2 913 L469.3 914.2 L471.7 907.5 L474.4 906.4 L476.4 901 L479 901.3 L482.2 897.6 L484.5 908 L486.3 906.8 L488.9 905.2 L490.9 898.2 L493.9 895.3 L496.3 891.3 L498.5 893.3 L500.8 888.6 L503.9 892.2 L506.1 888.8 L508.6 892.5 L510.8 890.1 L513.3 894.4 L515.8 894.3 L518.5 896.5 L520.7 891.3 L523.6 886.7 L526.2 883.7 L529.3 885.2 L531.4 882.2 L533.4 885.1 L535.7 881.7 L538.1 885.9 L540.8 884.7 L542.7 889.5 L545 887.1 L547.2 888.5 L549.8 884.1 L552.1 883.9 L554.7 878.3 L556.8 877.3 L559.9 871.5 L562.5 871.8 L565.4 868.5 L568 869.7 L570.7 865.2 L573.8 865.7 L576.1 861.6 L578.2 863.7 L581.1 862.3 L584.1 866.2 L586.5 865.8 L589.4 869.7 L591.4 865.7 L594 866.1 L596.2 861.8 L598.9 861.3 L600.8 856.8 L603.7 857.1 L606.4 854.6 L609.2 858.4 L612.4 856.8 L614.3 861.5 L616.4 858.4 L619.6 860 L621.5 856 L624.6 857.3 L627.3 858 L629.3 862.1 L631.2 860.4 L633.5 860.6 L635.4 857.7 L638.2 858.5 L640.2 853.1 L642.4 853.4 L644.9 848.3 L647.3 849.8 L650 848 L652.7 849.7 L655.8 848.8 L658.5 854.6 L661 854.8 L663.9 855.4 L665.9 851.3 L668.2 851.1 L670.2 845.7 L673 846.7 L675.7 845.8 L677.7 848.1 L679.8 845.2 L682.3 848 L685.2 843.3 L688 844.4 L690 843 L692.8 848.3 L694.7 849.3 L697.5 855.9 L699.5 851.2 L701.8 851.1 L704 847.7 L706.3 850.4 L708.3 848.4 L711 853.6 L713.4 851.2 L715.9 855.5 L718.5 851.8 L720.9 852.3 L722.7 850.3 L724.6 852.4 L727.1 848.1 L728.9 850.7 L731.9 847.6 L734.3 850.1 L736.3 848.3 L738.3 850 L740.6 847.1 L742.6 849.9 L744.8 848.5 L747 849.8 L749.5 848.4 L752.6 849.1 L755.7 845.6 L758.4 847.5 L761.6 844.5 L764.3 844.7 L767 841.4 L769.1 844.2 L770.9 845.6 L772.8 849.5 L776 846.3 L778.2 846.6 L780.4 842.1 L783.2 842.6 L785.4 839.1 L788.5 841.2 L790.9 837.7 L792.7 840.7 L795.6 839.8 L797.4 842.4 L800.6 839 L802.9 839.7 L804.8 836.2 L807.3 839 L809.2 835.6 L811.1 837.6 L812.9 836.7" fill="none" stroke="#111" stroke-width="1.3" stroke-linejoin="round"/>
<path d="M168.3 1128 L168.3 1113.5 L168.3 1093 L168.4 1069 L168.4 1043.9 L168.5 1020 L168.5 1000 L168.5 983.1 L168.6 967.2 L168.6 952.7 L168.7 939.8 L168.7 928.8 L168.8 920 L168.9 914.1 L168.9 911 L169 909.8 L169.1 909.6 L169.2 909.4 L169.3 908.4 L169.5 906.7 L169.6 905 L169.8 903.4 L170 901.8 L170.3 900.2 L170.7 898.6 L171.2 896.9 L171.8 895.2 L172.4 893.5 L173.1 891.8 L173.9 890.2 L174.6 888.8 L175.4 887.6 L176.2 886.5 L177 885.5 L177.8 884.7 L178.7 883.8 L179.5 883 L180.3 882.2 L181 881.6 L181.6 880.9 L182.4 880.3 L183.3 879.7 L184.4 879 L185.7 878.2 L187.3 877.4 L189 876.6 L190.8 875.8 L192.5 875 L194.2 874.2 L195.8 873.5 L197.5 872.8 L199.1 872.1 L200.7 871.5 L202.4 870.9 L204 870.3 L205.6 869.7 L207.2 869.2 L208.8 868.7 L210.5 868.2 L212.1 867.7 L213.7 867.3 L215.3 866.9 L217 866.6 L218.6 866.3 L220.2 866 L221.9 865.7 L223.5 865.4 L225.1 865.1 L226.7 864.7 L228.3 864.4 L230 864 L231.6 863.7 L233.2 863.4 L234.8 863.1 L236.3 862.9 L237.8 862.7 L239.4 862.5 L241.1 862.2 L243 862 L245.1 861.8 L247.4 861.5 L249.9 861.3 L252.4 861 L255 860.8 L257.7 860.5 L260.3 860.2 L263 859.9 L265.7 859.7 L268.6 859.4 L271.6 859.1 L275 858.8 L278.3 858.6 L281.5 858.4 L284.8 858.3 L288.8 858 L293.7 857.7 L300 857.1 L307.9 856.3 L317.1 855.3 L327.4 854.2 L338.2 852.9 L349.2 851.7 L360 850.5 L370.7 849.3 L381.6 848.1 L392.7 846.8 L404 845.6 L415.4 844.4 L427 843.2 L439 842.1 L451.4 841 L463.9 840 L476.4 839 L488.5 838 L500 837 L510.4 836.1 L520 835.3 L529.2 834.5 L538.5 833.6 L548.6 832.7 L560 831.7 L573.2 830.5 L588 829.1 L603.5 827.6 L618.9 826.1 L633.4 824.8 L646.2 823.6 L657.1 822.7 L666.8 821.9 L675.5 821.3 L683.7 820.6 L691.8 820 L700 819.2 L708.1 818.3 L715.7 817.4 L723.1 816.5 L730.7 815.5 L738.8 814.4 L747.8 813.2 L758.5 811.7 L770.9 810 L783.8 808.1 L796 806.4 L806.4 804.9 L813.8 803.8" fill="none" stroke="#c00000" stroke-width="7.6" stroke-linejoin="round"/>
<rect x="164.5" y="1124" width="7.5" height="7.5" fill="#c00000"/>
<rect x="809" y="799.8" width="7.8" height="7.5" fill="#c00000"/>
<rect x="270.7" y="859.3" width="2" height="2" fill="#000"/>
<rect x="287.9" y="858.4" width="2" height="2" fill="#000"/>
<rect x="312" y="855" width="2" height="2" fill="#000"/>
<rect x="329" y="852" width="2" height="2" fill="#000"/>
<rect x="339" y="850" width="2" height="2" fill="#000"/>
<rect x="359" y="848" width="2" height="2" fill="#000"/>
<rect x="377" y="846" width="2" height="2" fill="#000"/>
<rect x="389" y="844" width="2" height="2" fill="#000"/>
<rect x="424" y="840" width="2" height="2" fill="#000"/>
<rect x="444" y="838" width="2" height="2" fill="#000"/>
<rect x="471" y="835" width="2" height="2" fill="#000"/>
<rect x="486" y="833" width="2" height="2" fill="#000"/>
<rect x="554" y="829" width="2" height="2" fill="#000"/>
<rect x="558" y="829" width="2" height="2" fill="#000"/>
<rect x="583" y="827" width="2" height="2" fill="#000"/>
<rect x="599" y="826" width="2" height="2" fill="#000"/>
<rect x="604" y="825" width="2" height="2" fill="#000"/>
<rect x="629" y="824" width="2" height="2" fill="#000"/>
<rect x="654" y="822" width="2" height="2" fill="#000"/>
<rect x="689" y="819" width="2" height="2" fill="#000"/>
<rect x="704" y="817" width="2" height="2" fill="#000"/>
<rect x="794" y="804.5" width="2" height="2" fill="#000"/>
<path d="M458.6 833.2 L476.4 809.7 L570 809.7" fill="none" stroke="#c00000" stroke-width="2.4"/>
<path d="M577 809.7 L564 805.5 L566 809.7 L564 813.9 Z" fill="#c00000"/>
<path d="M420.3 922.6 L406.6 955.4 L348 955.4" fill="none" stroke="#000" stroke-width="4"/>
<path d="M337.5 955.4 L352 950 L350 955.4 L352 960.8 Z" fill="#000"/>
<rect x="146.5" y="1306.8" width="810.6" height="436.0" fill="none" stroke="#111" stroke-width="1.3"/>
<line x1="146.5" y1="1742.8" x2="155.0" y2="1742.8" stroke="#111" stroke-width="1.3"/>
<text x="126" y="1748.8" font-size="24" font-family="Liberation Sans, sans-serif" font-weight="normal" fill="#222" text-anchor="end" >0</text>
<line x1="146.5" y1="1597.5" x2="155.0" y2="1597.5" stroke="#111" stroke-width="1.3"/>
<text x="126" y="1604" font-size="24" font-family="Liberation Sans, sans-serif" font-weight="normal" fill="#222" text-anchor="end" >100</text>
<line x1="146.5" y1="1452.1" x2="155.0" y2="1452.1" stroke="#111" stroke-width="1.3"/>
<text x="126" y="1459.2" font-size="24" font-family="Liberation Sans, sans-serif" font-weight="normal" fill="#222" text-anchor="end" >200</text>
<line x1="146.5" y1="1306.8" x2="155.0" y2="1306.8" stroke="#111" stroke-width="1.3"/>
<text x="126" y="1314.4" font-size="24" font-family="Liberation Sans, sans-serif" font-weight="normal" fill="#222" text-anchor="end" >300</text>
<line x1="146.5" y1="1734.3" x2="146.5" y2="1742.8" stroke="#111" stroke-width="1.3"/>
<text x="146.5" y="1778.5" font-size="24" font-family="Liberation Sans, sans-serif" font-weight="normal" fill="#222" text-anchor="middle" >0</text>
<line x1="308.6" y1="1734.3" x2="308.6" y2="1742.8" stroke="#111" stroke-width="1.3"/>
<text x="308.6" y="1778.5" font-size="24" font-family="Liberation Sans, sans-serif" font-weight="normal" fill="#222" text-anchor="middle" >100</text>
<line x1="470.7" y1="1734.3" x2="470.7" y2="1742.8" stroke="#111" stroke-width="1.3"/>
<text x="470.7" y="1778.5" font-size="24" font-family="Liberation Sans, sans-serif" font-weight="normal" fill="#222" text-anchor="middle" >200</text>
<line x1="632.9" y1="1734.3" x2="632.9" y2="1742.8" stroke="#111" stroke-width="1.3"/>
<text x="632.9" y="1778.5" font-size="24" font-family="Liberation Sans, sans-serif" font-weight="normal" fill="#222" text-anchor="middle" >300</text>
<line x1="795" y1="1734.3" x2="795" y2="1742.8" stroke="#111" stroke-width="1.3"/>
<text x="795" y="1778.5" font-size="24" font-family="Liberation Sans, sans-serif" font-weight="normal" fill="#222" text-anchor="middle" >400</text>
<line x1="957.1" y1="1734.3" x2="957.1" y2="1742.8" stroke="#111" stroke-width="1.3"/>
<text x="957.1" y="1778.5" font-size="24" font-family="Liberation Sans, sans-serif" font-weight="normal" fill="#222" text-anchor="middle" >500</text>
<text transform="translate(70,1506.5) rotate(-90)" font-size="29.5" font-family="Liberation Sans, sans-serif" font-weight="bold" text-anchor="middle" fill="#111">Cumulated&#160;&#160;Energy (pJ)</text>
<text x="475" y="1841.3" font-size="29" font-family="Liberation Sans, sans-serif" font-weight="bold" fill="#111" text-anchor="start" >Time (h)</text>
<text x="516" y="1902" font-size="47" font-family="Liberation Serif, serif" font-weight="normal" fill="#111" text-anchor="middle" textLength="48.7" lengthAdjust="spacingAndGlyphs" >(<tspan font-weight="bold">c</tspan>)</text>
<path d="M149.2 1742 L149.4 1560 L150 1522 L152 1511 L156 1505 L162 1501.5 L171.2 1499 L183.8 1496.5 L194.7 1495 L208.8 1493.5 L228.3 1492.5 L229.8 1479 L288.4 1479 L291.6 1477.2 L350 1477.2 L415 1476.2 L470 1474.2 L559.7 1472 L565 1470.4 L682 1470.4 L684 1468.8 L709 1468.8 L711 1467.5 L735 1467.5 L738 1464.5 L768 1464.5 L770 1463 L787.5 1463 L790 1460.3 L812.8 1460.3 L815.2 1458.8 L837 1458.8 L837.8 1451.7 L848.8 1451.7 L850.3 1445 L865.2 1445 L866.7 1436.1 L887.8 1435.6 L889.4 1427.5 L892.5 1425.2 L894 1408.8 L905 1405.6 L909.7 1403.3 L926.1 1401.7 L926.6 1357.2" fill="none" stroke="#000" stroke-width="6.6" stroke-linejoin="round" stroke-linecap="round"/>
<rect x="146" y="1560" width="7" height="183" fill="#000"/>
</svg></body></html>
